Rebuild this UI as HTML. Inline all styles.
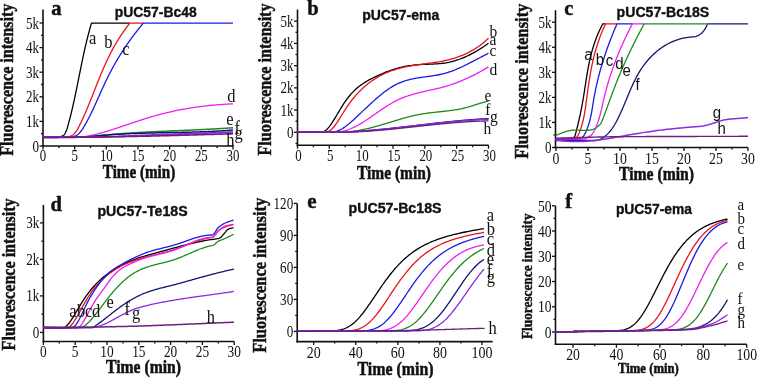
<!DOCTYPE html>
<html><head><meta charset="utf-8"><style>
html,body{margin:0;padding:0;background:#fff;}
svg{display:block;filter:blur(0.5px);}
</style></head><body>
<svg width="758" height="378" viewBox="0 0 758 378">
<rect width="758" height="378" fill="#fff"/>
<line x1="43.00" y1="9.50" x2="43.00" y2="146.80" stroke="#111" stroke-width="1.6"/>
<line x1="42.20" y1="146.00" x2="233.00" y2="146.00" stroke="#111" stroke-width="1.6"/>
<line x1="39.50" y1="146.00" x2="43.00" y2="146.00" stroke="#111" stroke-width="1.3"/>
<line x1="39.50" y1="121.40" x2="43.00" y2="121.40" stroke="#111" stroke-width="1.3"/>
<line x1="39.50" y1="96.80" x2="43.00" y2="96.80" stroke="#111" stroke-width="1.3"/>
<line x1="39.50" y1="72.20" x2="43.00" y2="72.20" stroke="#111" stroke-width="1.3"/>
<line x1="39.50" y1="47.60" x2="43.00" y2="47.60" stroke="#111" stroke-width="1.3"/>
<line x1="39.50" y1="23.00" x2="43.00" y2="23.00" stroke="#111" stroke-width="1.3"/>
<line x1="41.00" y1="133.70" x2="43.00" y2="133.70" stroke="#111" stroke-width="1.3"/>
<line x1="41.00" y1="109.10" x2="43.00" y2="109.10" stroke="#111" stroke-width="1.3"/>
<line x1="41.00" y1="84.50" x2="43.00" y2="84.50" stroke="#111" stroke-width="1.3"/>
<line x1="41.00" y1="59.90" x2="43.00" y2="59.90" stroke="#111" stroke-width="1.3"/>
<line x1="41.00" y1="35.30" x2="43.00" y2="35.30" stroke="#111" stroke-width="1.3"/>
<line x1="43.00" y1="146.00" x2="43.00" y2="149.50" stroke="#111" stroke-width="1.3"/>
<line x1="74.67" y1="146.00" x2="74.67" y2="149.50" stroke="#111" stroke-width="1.3"/>
<line x1="106.33" y1="146.00" x2="106.33" y2="149.50" stroke="#111" stroke-width="1.3"/>
<line x1="138.00" y1="146.00" x2="138.00" y2="149.50" stroke="#111" stroke-width="1.3"/>
<line x1="169.67" y1="146.00" x2="169.67" y2="149.50" stroke="#111" stroke-width="1.3"/>
<line x1="201.33" y1="146.00" x2="201.33" y2="149.50" stroke="#111" stroke-width="1.3"/>
<line x1="233.00" y1="146.00" x2="233.00" y2="149.50" stroke="#111" stroke-width="1.3"/>
<line x1="58.83" y1="146.00" x2="58.83" y2="148.00" stroke="#111" stroke-width="1.3"/>
<line x1="90.50" y1="146.00" x2="90.50" y2="148.00" stroke="#111" stroke-width="1.3"/>
<line x1="122.17" y1="146.00" x2="122.17" y2="148.00" stroke="#111" stroke-width="1.3"/>
<line x1="153.83" y1="146.00" x2="153.83" y2="148.00" stroke="#111" stroke-width="1.3"/>
<line x1="185.50" y1="146.00" x2="185.50" y2="148.00" stroke="#111" stroke-width="1.3"/>
<line x1="217.17" y1="146.00" x2="217.17" y2="148.00" stroke="#111" stroke-width="1.3"/>
<text transform="translate(39.00 151.51) scale(0.97 1.2)" font-family='"Liberation Serif", serif' font-size="13.5" text-anchor="end" fill="#111">0</text>
<text transform="translate(39.00 126.91) scale(0.97 1.2)" font-family='"Liberation Serif", serif' font-size="13.5" text-anchor="end" fill="#111">1k</text>
<text transform="translate(39.00 102.31) scale(0.97 1.2)" font-family='"Liberation Serif", serif' font-size="13.5" text-anchor="end" fill="#111">2k</text>
<text transform="translate(39.00 77.71) scale(0.97 1.2)" font-family='"Liberation Serif", serif' font-size="13.5" text-anchor="end" fill="#111">3k</text>
<text transform="translate(39.00 53.11) scale(0.97 1.2)" font-family='"Liberation Serif", serif' font-size="13.5" text-anchor="end" fill="#111">4k</text>
<text transform="translate(39.00 28.51) scale(0.97 1.2)" font-family='"Liberation Serif", serif' font-size="13.5" text-anchor="end" fill="#111">5k</text>
<text transform="translate(43.00 161.00) scale(0.92 1.12)" font-family='"Liberation Serif", serif' font-size="14" text-anchor="middle" fill="#111">0</text>
<text transform="translate(74.67 161.00) scale(0.92 1.12)" font-family='"Liberation Serif", serif' font-size="14" text-anchor="middle" fill="#111">5</text>
<text transform="translate(106.33 161.00) scale(0.92 1.12)" font-family='"Liberation Serif", serif' font-size="14" text-anchor="middle" fill="#111">10</text>
<text transform="translate(138.00 161.00) scale(0.92 1.12)" font-family='"Liberation Serif", serif' font-size="14" text-anchor="middle" fill="#111">15</text>
<text transform="translate(169.67 161.00) scale(0.92 1.12)" font-family='"Liberation Serif", serif' font-size="14" text-anchor="middle" fill="#111">20</text>
<text transform="translate(201.33 161.00) scale(0.92 1.12)" font-family='"Liberation Serif", serif' font-size="14" text-anchor="middle" fill="#111">25</text>
<text transform="translate(233.00 161.00) scale(0.92 1.12)" font-family='"Liberation Serif", serif' font-size="14" text-anchor="middle" fill="#111">30</text>
<text transform="translate(13.30 155.70) rotate(-90) scale(1 1.2)" x="0" y="0" font-family='"Liberation Serif", serif' font-size="16" font-weight="bold" fill="#111" stroke="#111" stroke-width="0.4" textLength="152" lengthAdjust="spacingAndGlyphs">Fluorescence intensity</text>
<text transform="translate(102.80 177.70) scale(1.0 1.2)" font-family='"Liberation Serif", serif' font-size="15.5" font-weight="bold" text-anchor="start" fill="#111" stroke="#111" stroke-width="0.45" textLength="72.5" lengthAdjust="spacingAndGlyphs" >Time (min)</text>
<text transform="translate(51.30 15.30) scale(1.0 1.0)" font-family='"Liberation Serif", serif' font-size="20.5" font-weight="bold" text-anchor="start" fill="#111" stroke="#111" stroke-width="0.45" >a</text>
<text transform="translate(114.70 16.70) scale(1.0 1.0)" font-family='"Liberation Sans", sans-serif' font-size="14" font-weight="bold" text-anchor="start" fill="#111" stroke="#111" stroke-width="0.35" textLength="82.0" lengthAdjust="spacingAndGlyphs" >pUC57-Bc48</text>
<path d="M43.00 136.70 L43.20 136.70 L43.40 136.70 L43.60 136.70 L43.80 136.70 L44.00 136.70 L44.19 136.70 L44.39 136.70 L44.59 136.70 L44.79 136.70 L44.99 136.70 L45.19 136.70 L45.39 136.70 L45.59 136.70 L45.79 136.70 L45.99 136.70 L46.19 136.70 L46.39 136.70 L46.58 136.70 L46.78 136.70 L46.98 136.70 L47.18 136.70 L47.38 136.70 L47.58 136.70 L47.78 136.70 L47.98 136.70 L48.18 136.70 L48.38 136.70 L48.58 136.70 L48.78 136.70 L48.97 136.70 L49.17 136.70 L49.37 136.70 L49.57 136.70 L49.77 136.70 L49.97 136.70 L50.17 136.70 L50.37 136.70 L50.57 136.70 L50.77 136.70 L50.97 136.70 L51.17 136.70 L51.36 136.70 L51.56 136.70 L51.76 136.70 L51.96 136.70 L52.16 136.70 L52.36 136.70 L52.56 136.70 L52.76 136.70 L52.96 136.70 L53.16 136.70 L53.36 136.70 L53.56 136.70 L53.75 136.70 L53.95 136.70 L54.15 136.70 L54.35 136.70 L54.55 136.70 L54.75 136.70 L54.95 136.70 L55.15 136.70 L55.35 136.70 L55.55 136.70 L55.75 136.70 L55.95 136.70 L56.14 136.70 L56.34 136.70 L56.54 136.70 L56.74 136.70 L56.94 136.70 L57.14 136.70 L57.34 136.70 L57.54 136.70 L57.74 136.70 L57.94 136.70 L58.14 136.70 L58.34 136.70 L58.53 136.70 L58.73 136.70 L58.93 136.70 L59.13 136.70 L59.33 136.69 L59.53 136.68 L59.73 136.66 L59.93 136.63 L60.13 136.60 L60.33 136.56 L60.53 136.52 L60.73 136.48 L60.92 136.43 L61.12 136.38 L61.32 136.33 L61.52 136.28 L61.72 136.22 L61.92 136.16 L62.12 136.10 L62.32 136.02 L62.52 135.93 L62.72 135.82 L62.92 135.71 L63.12 135.59 L63.31 135.45 L63.51 135.31 L63.71 135.15 L63.91 134.99 L64.11 134.79 L64.31 134.55 L64.51 134.26 L64.71 133.94 L64.91 133.59 L65.11 133.21 L65.31 132.82 L65.51 132.41 L65.70 131.99 L65.90 131.58 L66.10 131.16 L66.30 130.76 L66.50 130.37 L66.70 130.00" fill="none" stroke="#000000" stroke-width="1.3" stroke-linejoin="round"/>
<path d="M66.70 130.00 L67.02 128.92 L67.33 127.84 L67.64 126.76 L67.94 125.68 L68.24 124.60 L68.54 123.52 L68.83 122.44 L69.12 121.36 L69.41 120.28 L69.69 119.20 L69.97 118.12 L70.24 117.04 L70.51 115.96 L70.78 114.88 L71.05 113.80 L71.31 112.72 L71.58 111.64 L71.83 110.56 L72.09 109.48 L72.34 108.40 L72.59 107.32 L72.84 106.24 L73.09 105.16 L73.33 104.08 L73.57 103.01 L73.81 101.93 L74.05 100.85 L74.28 99.77 L74.52 98.69 L74.75 97.61 L74.98 96.53 L75.21 95.45 L75.43 94.37 L75.66 93.29 L75.88 92.21 L76.11 91.13 L76.33 90.05 L76.55 88.97 L76.77 87.89 L76.99 86.81 L77.21 85.73 L77.43 84.65 L77.65 83.57 L77.86 82.49 L78.08 81.41 L78.30 80.33 L78.51 79.25 L78.73 78.17 L78.94 77.09 L79.16 76.01 L79.37 74.93 L79.59 73.85 L79.81 72.77 L80.02 71.69 L80.24 70.61 L80.46 69.53 L80.67 68.45 L80.89 67.37 L81.11 66.29 L81.33 65.21 L81.55 64.13 L81.78 63.05 L82.00 61.97 L82.22 60.89 L82.45 59.81 L82.68 58.73 L82.91 57.65 L83.14 56.57 L83.37 55.49 L83.60 54.41 L83.84 53.33 L84.07 52.25 L84.31 51.17 L84.55 50.09 L84.80 49.02 L85.04 47.94 L85.29 46.86 L85.54 45.78 L85.79 44.70 L86.05 43.62 L86.31 42.54 L86.57 41.46 L86.83 40.38 L87.10 39.30 L87.37 38.22 L87.64 37.14 L87.92 36.06 L88.19 34.98 L88.48 33.90 L88.76 32.82 L89.05 31.74 L89.34 30.66 L89.64 29.58 L89.94 28.50 L90.24 27.42 L90.55 26.34 L90.86 25.26 L91.18 24.18 L91.50 23.10 L129.80 23.10" fill="none" stroke="#000000" stroke-width="1.3" stroke-linejoin="round"/>
<path d="M43.00 136.70 L43.29 136.70 L43.57 136.70 L43.86 136.70 L44.15 136.70 L44.44 136.70 L44.72 136.70 L45.01 136.70 L45.30 136.70 L45.59 136.70 L45.87 136.70 L46.16 136.70 L46.45 136.70 L46.74 136.70 L47.02 136.70 L47.31 136.70 L47.60 136.70 L47.89 136.70 L48.17 136.70 L48.46 136.70 L48.75 136.70 L49.04 136.70 L49.32 136.70 L49.61 136.70 L49.90 136.70 L50.18 136.70 L50.47 136.70 L50.76 136.70 L51.05 136.70 L51.33 136.70 L51.62 136.70 L51.91 136.70 L52.20 136.70 L52.48 136.70 L52.77 136.70 L53.06 136.70 L53.35 136.70 L53.63 136.70 L53.92 136.70 L54.21 136.70 L54.50 136.70 L54.78 136.70 L55.07 136.70 L55.36 136.70 L55.65 136.70 L55.93 136.70 L56.22 136.70 L56.51 136.70 L56.79 136.70 L57.08 136.70 L57.37 136.70 L57.66 136.70 L57.94 136.70 L58.23 136.70 L58.52 136.70 L58.81 136.70 L59.09 136.70 L59.38 136.70 L59.67 136.70 L59.96 136.70 L60.24 136.70 L60.53 136.70 L60.82 136.70 L61.11 136.70 L61.39 136.70 L61.68 136.70 L61.97 136.70 L62.26 136.70 L62.54 136.70 L62.83 136.70 L63.12 136.70 L63.41 136.70 L63.69 136.70 L63.98 136.70 L64.27 136.70 L64.55 136.70 L64.84 136.70 L65.13 136.70 L65.42 136.70 L65.70 136.70 L65.99 136.70 L66.28 136.70 L66.57 136.70 L66.85 136.70 L67.14 136.70 L67.43 136.69 L67.72 136.67 L68.00 136.64 L68.29 136.60 L68.58 136.56 L68.87 136.51 L69.15 136.45 L69.44 136.40 L69.73 136.33 L70.02 136.27 L70.30 136.20 L70.59 136.12 L70.88 136.02 L71.16 135.91 L71.45 135.78 L71.74 135.63 L72.03 135.47 L72.31 135.31 L72.60 135.13 L72.89 134.94 L73.18 134.73 L73.46 134.48 L73.75 134.20 L74.04 133.90 L74.33 133.58 L74.61 133.24 L74.90 132.89 L75.19 132.53 L75.48 132.16 L75.76 131.79 L76.05 131.41 L76.34 131.05 L76.63 130.68 L76.91 130.34 L77.20 130.00" fill="none" stroke="#e8141c" stroke-width="1.3" stroke-linejoin="round"/>
<path d="M77.20 130.00 L77.76 128.92 L78.32 127.84 L78.87 126.76 L79.41 125.68 L79.94 124.60 L80.47 123.52 L80.98 122.44 L81.50 121.36 L82.01 120.28 L82.51 119.20 L83.00 118.12 L83.49 117.04 L83.98 115.96 L84.46 114.88 L84.93 113.80 L85.40 112.72 L85.87 111.64 L86.33 110.56 L86.79 109.48 L87.24 108.40 L87.69 107.32 L88.14 106.24 L88.58 105.16 L89.03 104.08 L89.46 103.01 L89.90 101.93 L90.33 100.85 L90.77 99.77 L91.20 98.69 L91.63 97.61 L92.05 96.53 L92.48 95.45 L92.90 94.37 L93.33 93.29 L93.75 92.21 L94.18 91.13 L94.60 90.05 L95.02 88.97 L95.45 87.89 L95.87 86.81 L96.30 85.73 L96.73 84.65 L97.15 83.57 L97.58 82.49 L98.01 81.41 L98.45 80.33 L98.88 79.25 L99.32 78.17 L99.76 77.09 L100.20 76.01 L100.65 74.93 L101.10 73.85 L101.55 72.77 L102.01 71.69 L102.46 70.61 L102.93 69.53 L103.40 68.45 L103.87 67.37 L104.35 66.29 L104.83 65.21 L105.32 64.13 L105.81 63.05 L106.31 61.97 L106.81 60.89 L107.32 59.81 L107.84 58.73 L108.36 57.65 L108.89 56.57 L109.43 55.49 L109.97 54.41 L110.52 53.33 L111.08 52.25 L111.65 51.17 L112.22 50.09 L112.80 49.02 L113.40 47.94 L113.99 46.86 L114.60 45.78 L115.22 44.70 L115.85 43.62 L116.48 42.54 L117.13 41.46 L117.78 40.38 L118.45 39.30 L119.13 38.22 L119.81 37.14 L120.51 36.06 L121.22 34.98 L121.94 33.90 L122.67 32.82 L123.41 31.74 L124.17 30.66 L124.93 29.58 L125.71 28.50 L126.51 27.42 L127.31 26.34 L128.13 25.26 L128.96 24.18 L129.80 23.10 L143.40 23.10" fill="none" stroke="#e8141c" stroke-width="1.3" stroke-linejoin="round"/>
<path d="M43.00 136.70 L43.33 136.70 L43.66 136.70 L43.98 136.70 L44.31 136.70 L44.64 136.70 L44.97 136.70 L45.29 136.70 L45.62 136.70 L45.95 136.70 L46.28 136.70 L46.61 136.70 L46.93 136.70 L47.26 136.70 L47.59 136.70 L47.92 136.70 L48.24 136.70 L48.57 136.70 L48.90 136.70 L49.23 136.70 L49.55 136.70 L49.88 136.70 L50.21 136.70 L50.54 136.70 L50.87 136.70 L51.19 136.70 L51.52 136.70 L51.85 136.70 L52.18 136.70 L52.50 136.70 L52.83 136.70 L53.16 136.70 L53.49 136.70 L53.82 136.70 L54.14 136.70 L54.47 136.70 L54.80 136.70 L55.13 136.70 L55.45 136.70 L55.78 136.70 L56.11 136.70 L56.44 136.70 L56.76 136.70 L57.09 136.70 L57.42 136.70 L57.75 136.70 L58.08 136.70 L58.40 136.70 L58.73 136.70 L59.06 136.70 L59.39 136.70 L59.71 136.70 L60.04 136.70 L60.37 136.70 L60.70 136.70 L61.03 136.70 L61.35 136.70 L61.68 136.70 L62.01 136.70 L62.34 136.70 L62.66 136.70 L62.99 136.70 L63.32 136.70 L63.65 136.70 L63.97 136.70 L64.30 136.70 L64.63 136.70 L64.96 136.70 L65.29 136.70 L65.61 136.70 L65.94 136.70 L66.27 136.70 L66.60 136.70 L66.92 136.70 L67.25 136.70 L67.58 136.70 L67.91 136.70 L68.24 136.70 L68.56 136.70 L68.89 136.70 L69.22 136.70 L69.55 136.70 L69.87 136.70 L70.20 136.70 L70.53 136.70 L70.86 136.70 L71.18 136.70 L71.51 136.70 L71.84 136.69 L72.17 136.67 L72.50 136.64 L72.82 136.59 L73.15 136.54 L73.48 136.48 L73.81 136.41 L74.13 136.33 L74.46 136.26 L74.79 136.18 L75.12 136.08 L75.45 135.95 L75.77 135.81 L76.10 135.65 L76.43 135.47 L76.76 135.27 L77.08 135.07 L77.41 134.86 L77.74 134.61 L78.07 134.33 L78.39 134.03 L78.72 133.70 L79.05 133.36 L79.38 133.00 L79.71 132.62 L80.03 132.24 L80.36 131.86 L80.69 131.47 L81.02 131.09 L81.34 130.71 L81.67 130.35 L82.00 130.00" fill="none" stroke="#1a1ae6" stroke-width="1.3" stroke-linejoin="round"/>
<path d="M82.00 130.00 L82.66 128.92 L83.31 127.84 L83.95 126.76 L84.57 125.68 L85.19 124.60 L85.79 123.52 L86.39 122.44 L86.98 121.36 L87.56 120.28 L88.13 119.20 L88.69 118.12 L89.24 117.04 L89.79 115.96 L90.33 114.88 L90.87 113.80 L91.39 112.72 L91.92 111.64 L92.43 110.56 L92.94 109.48 L93.45 108.40 L93.96 107.32 L94.45 106.24 L94.95 105.16 L95.44 104.08 L95.93 103.01 L96.42 101.93 L96.91 100.85 L97.39 99.77 L97.87 98.69 L98.35 97.61 L98.83 96.53 L99.32 95.45 L99.80 94.37 L100.28 93.29 L100.76 92.21 L101.25 91.13 L101.73 90.05 L102.22 88.97 L102.71 87.89 L103.20 86.81 L103.70 85.73 L104.20 84.65 L104.70 83.57 L105.21 82.49 L105.72 81.41 L106.24 80.33 L106.77 79.25 L107.30 78.17 L107.83 77.09 L108.37 76.01 L108.92 74.93 L109.47 73.85 L110.03 72.77 L110.59 71.69 L111.16 70.61 L111.74 69.53 L112.32 68.45 L112.91 67.37 L113.51 66.29 L114.11 65.21 L114.72 64.13 L115.34 63.05 L115.96 61.97 L116.59 60.89 L117.22 59.81 L117.86 58.73 L118.51 57.65 L119.17 56.57 L119.83 55.49 L120.50 54.41 L121.18 53.33 L121.87 52.25 L122.56 51.17 L123.26 50.09 L123.97 49.02 L124.68 47.94 L125.41 46.86 L126.14 45.78 L126.88 44.70 L127.62 43.62 L128.38 42.54 L129.14 41.46 L129.91 40.38 L130.69 39.30 L131.48 38.22 L132.27 37.14 L133.08 36.06 L133.89 34.98 L134.71 33.90 L135.54 32.82 L136.38 31.74 L137.22 30.66 L138.08 29.58 L138.94 28.50 L139.82 27.42 L140.70 26.34 L141.59 25.26 L142.49 24.18 L143.40 23.10 L233.00 23.10" fill="none" stroke="#1a1ae6" stroke-width="1.3" stroke-linejoin="round"/>
<path d="M43.00 136.70 L85.00 136.70 L86.24 136.47 L87.49 136.23 L88.73 135.98 L89.97 135.71 L91.22 135.44 L92.46 135.16 L93.71 134.87 L94.95 134.57 L96.19 134.26 L97.44 133.94 L98.68 133.61 L99.92 133.28 L101.17 132.94 L102.41 132.59 L103.66 132.24 L104.90 131.87 L106.14 131.51 L107.39 131.13 L108.63 130.76 L109.87 130.37 L111.12 129.98 L112.36 129.59 L113.61 129.19 L114.85 128.79 L116.09 128.39 L117.34 127.98 L118.58 127.57 L119.82 127.16 L121.07 126.74 L122.31 126.33 L123.55 125.91 L124.80 125.49 L126.04 125.07 L127.29 124.65 L128.53 124.23 L129.77 123.81 L131.02 123.39 L132.26 122.97 L133.50 122.55 L134.75 122.13 L135.99 121.71 L137.24 121.30 L138.48 120.89 L139.72 120.48 L140.97 120.07 L142.21 119.67 L143.45 119.27 L144.70 118.88 L145.94 118.49 L147.18 118.10 L148.43 117.72 L149.67 117.34 L150.92 116.97 L152.16 116.61 L153.40 116.25 L154.65 115.90 L155.89 115.55 L157.13 115.21 L158.38 114.87 L159.62 114.54 L160.87 114.21 L162.11 113.89 L163.35 113.58 L164.60 113.27 L165.84 112.96 L167.08 112.66 L168.33 112.37 L169.57 112.08 L170.82 111.80 L172.06 111.52 L173.30 111.25 L174.55 110.98 L175.79 110.72 L177.03 110.46 L178.28 110.21 L179.52 109.97 L180.76 109.73 L182.01 109.49 L183.25 109.26 L184.50 109.03 L185.74 108.81 L186.98 108.59 L188.23 108.38 L189.47 108.17 L190.71 107.97 L191.96 107.78 L193.20 107.58 L194.45 107.40 L195.69 107.21 L196.93 107.04 L198.18 106.86 L199.42 106.69 L200.66 106.53 L201.91 106.37 L203.15 106.22 L204.39 106.07 L205.64 105.92 L206.88 105.78 L208.13 105.65 L209.37 105.51 L210.61 105.39 L211.86 105.26 L213.10 105.15 L214.34 105.03 L215.59 104.92 L216.83 104.82 L218.08 104.72 L219.32 104.62 L220.56 104.53 L221.81 104.44 L223.05 104.36 L224.29 104.28 L225.54 104.20 L226.78 104.13 L228.03 104.06 L229.27 104.00 L230.51 103.94 L231.76 103.89 L233.00 103.83" fill="none" stroke="#f01ef0" stroke-width="1.3" stroke-linejoin="round"/>
<path d="M43.00 136.70 L90.00 136.70 L91.20 136.55 L92.40 136.41 L93.61 136.27 L94.81 136.13 L96.01 136.00 L97.21 135.87 L98.41 135.74 L99.61 135.61 L100.82 135.48 L102.02 135.36 L103.22 135.24 L104.42 135.12 L105.62 135.01 L106.82 134.89 L108.03 134.78 L109.23 134.67 L110.43 134.56 L111.63 134.46 L112.83 134.35 L114.03 134.25 L115.24 134.15 L116.44 134.05 L117.64 133.96 L118.84 133.86 L120.04 133.77 L121.24 133.68 L122.45 133.59 L123.65 133.50 L124.85 133.41 L126.05 133.33 L127.25 133.25 L128.45 133.16 L129.66 133.08 L130.86 133.01 L132.06 132.93 L133.26 132.85 L134.46 132.78 L135.66 132.71 L136.87 132.63 L138.07 132.56 L139.27 132.49 L140.47 132.42 L141.67 132.36 L142.87 132.29 L144.08 132.23 L145.28 132.16 L146.48 132.10 L147.68 132.04 L148.88 131.97 L150.08 131.91 L151.29 131.85 L152.49 131.79 L153.69 131.74 L154.89 131.68 L156.09 131.62 L157.29 131.57 L158.50 131.51 L159.70 131.46 L160.90 131.40 L162.10 131.35 L163.30 131.29 L164.50 131.24 L165.71 131.19 L166.91 131.13 L168.11 131.08 L169.31 131.03 L170.51 130.98 L171.71 130.93 L172.92 130.87 L174.12 130.82 L175.32 130.77 L176.52 130.72 L177.72 130.67 L178.92 130.62 L180.13 130.57 L181.33 130.52 L182.53 130.47 L183.73 130.41 L184.93 130.36 L186.13 130.31 L187.34 130.26 L188.54 130.20 L189.74 130.15 L190.94 130.10 L192.14 130.04 L193.34 129.99 L194.55 129.94 L195.75 129.88 L196.95 129.82 L198.15 129.77 L199.35 129.71 L200.55 129.65 L201.76 129.59 L202.96 129.53 L204.16 129.47 L205.36 129.41 L206.56 129.35 L207.76 129.29 L208.97 129.23 L210.17 129.16 L211.37 129.10 L212.57 129.03 L213.77 128.96 L214.97 128.89 L216.18 128.82 L217.38 128.75 L218.58 128.68 L219.78 128.60 L220.98 128.53 L222.18 128.45 L223.39 128.38 L224.59 128.30 L225.79 128.22 L226.99 128.13 L228.19 128.05 L229.39 127.97 L230.60 127.88 L231.80 127.79 L233.00 127.70" fill="none" stroke="#1f8a1f" stroke-width="1.5" stroke-linejoin="round"/>
<path d="M43.00 136.70 L90.00 136.70 L91.20 136.56 L92.40 136.42 L93.61 136.29 L94.81 136.16 L96.01 136.03 L97.21 135.91 L98.41 135.79 L99.61 135.68 L100.82 135.56 L102.02 135.45 L103.22 135.35 L104.42 135.24 L105.62 135.14 L106.82 135.04 L108.03 134.95 L109.23 134.86 L110.43 134.77 L111.63 134.68 L112.83 134.60 L114.03 134.52 L115.24 134.44 L116.44 134.36 L117.64 134.29 L118.84 134.22 L120.04 134.15 L121.24 134.08 L122.45 134.02 L123.65 133.95 L124.85 133.89 L126.05 133.83 L127.25 133.78 L128.45 133.72 L129.66 133.67 L130.86 133.62 L132.06 133.57 L133.26 133.52 L134.46 133.48 L135.66 133.43 L136.87 133.39 L138.07 133.35 L139.27 133.31 L140.47 133.27 L141.67 133.23 L142.87 133.20 L144.08 133.16 L145.28 133.13 L146.48 133.10 L147.68 133.07 L148.88 133.03 L150.08 133.01 L151.29 132.98 L152.49 132.95 L153.69 132.92 L154.89 132.90 L156.09 132.87 L157.29 132.84 L158.50 132.82 L159.70 132.80 L160.90 132.77 L162.10 132.75 L163.30 132.73 L164.50 132.70 L165.71 132.68 L166.91 132.66 L168.11 132.64 L169.31 132.61 L170.51 132.59 L171.71 132.57 L172.92 132.55 L174.12 132.52 L175.32 132.50 L176.52 132.48 L177.72 132.45 L178.92 132.43 L180.13 132.40 L181.33 132.38 L182.53 132.35 L183.73 132.33 L184.93 132.30 L186.13 132.27 L187.34 132.24 L188.54 132.21 L189.74 132.18 L190.94 132.15 L192.14 132.12 L193.34 132.08 L194.55 132.05 L195.75 132.01 L196.95 131.98 L198.15 131.94 L199.35 131.90 L200.55 131.86 L201.76 131.81 L202.96 131.77 L204.16 131.72 L205.36 131.68 L206.56 131.63 L207.76 131.58 L208.97 131.52 L210.17 131.47 L211.37 131.41 L212.57 131.35 L213.77 131.29 L214.97 131.23 L216.18 131.17 L217.38 131.10 L218.58 131.03 L219.78 130.96 L220.98 130.88 L222.18 130.81 L223.39 130.73 L224.59 130.65 L225.79 130.56 L226.99 130.48 L228.19 130.39 L229.39 130.29 L230.60 130.20 L231.80 130.10 L233.00 130.00" fill="none" stroke="#141470" stroke-width="1.5" stroke-linejoin="round"/>
<path d="M43.00 137.20 L44.60 137.19 L46.19 137.19 L47.79 137.18 L49.39 137.18 L50.98 137.18 L52.58 137.17 L54.18 137.17 L55.77 137.16 L57.37 137.16 L58.97 137.15 L60.56 137.15 L62.16 137.15 L63.76 137.14 L65.35 137.14 L66.95 137.13 L68.55 137.13 L70.14 137.13 L71.74 137.12 L73.34 137.12 L74.93 137.11 L76.53 137.11 L78.13 137.10 L79.72 137.10 L81.32 137.09 L82.92 137.09 L84.51 137.08 L86.11 137.07 L87.71 137.07 L89.30 137.06 L90.90 137.05 L92.50 137.04 L94.09 137.04 L95.69 137.03 L97.29 137.02 L98.88 137.01 L100.48 137.00 L102.08 136.98 L103.67 136.96 L105.27 136.92 L106.87 136.89 L108.46 136.84 L110.06 136.80 L111.66 136.74 L113.25 136.68 L114.85 136.62 L116.45 136.56 L118.04 136.49 L119.64 136.42 L121.24 136.35 L122.83 136.27 L124.43 136.20 L126.03 136.12 L127.62 136.04 L129.22 135.97 L130.82 135.89 L132.41 135.82 L134.01 135.75 L135.61 135.68 L137.20 135.61 L138.80 135.55 L140.39 135.49 L141.99 135.43 L143.59 135.37 L145.18 135.31 L146.78 135.25 L148.38 135.19 L149.97 135.13 L151.57 135.07 L153.17 135.01 L154.76 134.95 L156.36 134.90 L157.96 134.84 L159.55 134.78 L161.15 134.72 L162.75 134.66 L164.34 134.60 L165.94 134.54 L167.54 134.49 L169.13 134.43 L170.73 134.37 L172.33 134.31 L173.92 134.25 L175.52 134.19 L177.12 134.14 L178.71 134.08 L180.31 134.02 L181.91 133.96 L183.50 133.90 L185.10 133.84 L186.70 133.79 L188.29 133.73 L189.89 133.67 L191.49 133.61 L193.08 133.55 L194.68 133.50 L196.28 133.44 L197.87 133.38 L199.47 133.32 L201.07 133.26 L202.66 133.21 L204.26 133.15 L205.86 133.09 L207.45 133.03 L209.05 132.97 L210.65 132.92 L212.24 132.86 L213.84 132.80 L215.44 132.74 L217.03 132.68 L218.63 132.62 L220.23 132.57 L221.82 132.51 L223.42 132.45 L225.02 132.39 L226.61 132.33 L228.21 132.27 L229.81 132.22 L231.40 132.16 L233.00 132.10" fill="none" stroke="#8a2be2" stroke-width="1.8" stroke-linejoin="round"/>
<path d="M43.00 137.80 L44.60 137.78 L46.19 137.75 L47.79 137.73 L49.39 137.70 L50.98 137.68 L52.58 137.66 L54.18 137.63 L55.77 137.61 L57.37 137.59 L58.97 137.56 L60.56 137.54 L62.16 137.52 L63.76 137.49 L65.35 137.47 L66.95 137.45 L68.55 137.43 L70.14 137.40 L71.74 137.38 L73.34 137.36 L74.93 137.34 L76.53 137.31 L78.13 137.29 L79.72 137.27 L81.32 137.25 L82.92 137.22 L84.51 137.20 L86.11 137.18 L87.71 137.16 L89.30 137.13 L90.90 137.11 L92.50 137.09 L94.09 137.06 L95.69 137.04 L97.29 137.02 L98.88 136.99 L100.48 136.97 L102.08 136.95 L103.67 136.92 L105.27 136.90 L106.87 136.87 L108.46 136.85 L110.06 136.82 L111.66 136.80 L113.25 136.77 L114.85 136.75 L116.45 136.72 L118.04 136.69 L119.64 136.67 L121.24 136.64 L122.83 136.61 L124.43 136.59 L126.03 136.56 L127.62 136.53 L129.22 136.50 L130.82 136.47 L132.41 136.44 L134.01 136.41 L135.61 136.38 L137.20 136.35 L138.80 136.32 L140.39 136.29 L141.99 136.26 L143.59 136.23 L145.18 136.19 L146.78 136.16 L148.38 136.12 L149.97 136.09 L151.57 136.05 L153.17 136.02 L154.76 135.98 L156.36 135.94 L157.96 135.90 L159.55 135.86 L161.15 135.82 L162.75 135.78 L164.34 135.74 L165.94 135.70 L167.54 135.66 L169.13 135.62 L170.73 135.57 L172.33 135.53 L173.92 135.49 L175.52 135.44 L177.12 135.40 L178.71 135.35 L180.31 135.31 L181.91 135.26 L183.50 135.22 L185.10 135.17 L186.70 135.13 L188.29 135.08 L189.89 135.04 L191.49 134.99 L193.08 134.94 L194.68 134.90 L196.28 134.85 L197.87 134.80 L199.47 134.76 L201.07 134.71 L202.66 134.66 L204.26 134.62 L205.86 134.57 L207.45 134.52 L209.05 134.48 L210.65 134.43 L212.24 134.38 L213.84 134.34 L215.44 134.29 L217.03 134.25 L218.63 134.20 L220.23 134.15 L221.82 134.11 L223.42 134.06 L225.02 134.02 L226.61 133.97 L228.21 133.93 L229.81 133.89 L231.40 133.84 L233.00 133.80" fill="none" stroke="#6d1f7d" stroke-width="1.6" stroke-linejoin="round"/>
<text transform="translate(89.00 44.00) scale(1.0 1.08)" font-family='"Liberation Serif", serif' font-size="16.5" font-weight="normal" text-anchor="start" fill="#111" >a</text>
<text transform="translate(104.20 48.20) scale(1.0 1.08)" font-family='"Liberation Serif", serif' font-size="16.5" font-weight="normal" text-anchor="start" fill="#111" >b</text>
<text transform="translate(122.30 54.50) scale(1.0 1.08)" font-family='"Liberation Serif", serif' font-size="16.5" font-weight="normal" text-anchor="start" fill="#111" >c</text>
<text transform="translate(227.30 102.00) scale(1.0 1.08)" font-family='"Liberation Serif", serif' font-size="16.5" font-weight="normal" text-anchor="start" fill="#111" >d</text>
<text transform="translate(226.30 125.20) scale(1.0 1.08)" font-family='"Liberation Serif", serif' font-size="16.5" font-weight="normal" text-anchor="start" fill="#111" >e</text>
<text transform="translate(234.40 133.50) scale(1.0 1.08)" font-family='"Liberation Serif", serif' font-size="16.5" font-weight="normal" text-anchor="start" fill="#111" >f</text>
<text transform="translate(234.40 138.70) scale(1.0 1.08)" font-family='"Liberation Serif", serif' font-size="16.5" font-weight="normal" text-anchor="start" fill="#111" >g</text>
<text transform="translate(226.30 146.20) scale(1.0 1.08)" font-family='"Liberation Serif", serif' font-size="16.5" font-weight="normal" text-anchor="start" fill="#111" >h</text>
<line x1="297.50" y1="9.50" x2="297.50" y2="146.00" stroke="#111" stroke-width="1.6"/>
<line x1="296.70" y1="145.20" x2="488.50" y2="145.20" stroke="#111" stroke-width="1.6"/>
<line x1="294.00" y1="132.30" x2="297.50" y2="132.30" stroke="#111" stroke-width="1.3"/>
<line x1="294.00" y1="110.08" x2="297.50" y2="110.08" stroke="#111" stroke-width="1.3"/>
<line x1="294.00" y1="87.86" x2="297.50" y2="87.86" stroke="#111" stroke-width="1.3"/>
<line x1="294.00" y1="65.64" x2="297.50" y2="65.64" stroke="#111" stroke-width="1.3"/>
<line x1="294.00" y1="43.42" x2="297.50" y2="43.42" stroke="#111" stroke-width="1.3"/>
<line x1="294.00" y1="21.20" x2="297.50" y2="21.20" stroke="#111" stroke-width="1.3"/>
<line x1="295.50" y1="121.19" x2="297.50" y2="121.19" stroke="#111" stroke-width="1.3"/>
<line x1="295.50" y1="98.97" x2="297.50" y2="98.97" stroke="#111" stroke-width="1.3"/>
<line x1="295.50" y1="76.75" x2="297.50" y2="76.75" stroke="#111" stroke-width="1.3"/>
<line x1="295.50" y1="54.53" x2="297.50" y2="54.53" stroke="#111" stroke-width="1.3"/>
<line x1="295.50" y1="32.31" x2="297.50" y2="32.31" stroke="#111" stroke-width="1.3"/>
<line x1="295.50" y1="143.41" x2="297.50" y2="143.41" stroke="#111" stroke-width="1.3"/>
<line x1="297.50" y1="145.20" x2="297.50" y2="148.70" stroke="#111" stroke-width="1.3"/>
<line x1="329.33" y1="145.20" x2="329.33" y2="148.70" stroke="#111" stroke-width="1.3"/>
<line x1="361.17" y1="145.20" x2="361.17" y2="148.70" stroke="#111" stroke-width="1.3"/>
<line x1="393.00" y1="145.20" x2="393.00" y2="148.70" stroke="#111" stroke-width="1.3"/>
<line x1="424.83" y1="145.20" x2="424.83" y2="148.70" stroke="#111" stroke-width="1.3"/>
<line x1="456.67" y1="145.20" x2="456.67" y2="148.70" stroke="#111" stroke-width="1.3"/>
<line x1="488.50" y1="145.20" x2="488.50" y2="148.70" stroke="#111" stroke-width="1.3"/>
<line x1="313.42" y1="145.20" x2="313.42" y2="147.20" stroke="#111" stroke-width="1.3"/>
<line x1="345.25" y1="145.20" x2="345.25" y2="147.20" stroke="#111" stroke-width="1.3"/>
<line x1="377.08" y1="145.20" x2="377.08" y2="147.20" stroke="#111" stroke-width="1.3"/>
<line x1="408.92" y1="145.20" x2="408.92" y2="147.20" stroke="#111" stroke-width="1.3"/>
<line x1="440.75" y1="145.20" x2="440.75" y2="147.20" stroke="#111" stroke-width="1.3"/>
<line x1="472.58" y1="145.20" x2="472.58" y2="147.20" stroke="#111" stroke-width="1.3"/>
<text transform="translate(293.50 137.81) scale(0.97 1.2)" font-family='"Liberation Serif", serif' font-size="13.5" text-anchor="end" fill="#111">0</text>
<text transform="translate(293.50 115.59) scale(0.97 1.2)" font-family='"Liberation Serif", serif' font-size="13.5" text-anchor="end" fill="#111">1k</text>
<text transform="translate(293.50 93.37) scale(0.97 1.2)" font-family='"Liberation Serif", serif' font-size="13.5" text-anchor="end" fill="#111">2k</text>
<text transform="translate(293.50 71.15) scale(0.97 1.2)" font-family='"Liberation Serif", serif' font-size="13.5" text-anchor="end" fill="#111">3k</text>
<text transform="translate(293.50 48.93) scale(0.97 1.2)" font-family='"Liberation Serif", serif' font-size="13.5" text-anchor="end" fill="#111">4k</text>
<text transform="translate(293.50 26.71) scale(0.97 1.2)" font-family='"Liberation Serif", serif' font-size="13.5" text-anchor="end" fill="#111">5k</text>
<text transform="translate(298.50 161.20) scale(0.92 1.12)" font-family='"Liberation Serif", serif' font-size="14" text-anchor="middle" fill="#111">0</text>
<text transform="translate(330.33 161.20) scale(0.92 1.12)" font-family='"Liberation Serif", serif' font-size="14" text-anchor="middle" fill="#111">5</text>
<text transform="translate(362.17 161.20) scale(0.92 1.12)" font-family='"Liberation Serif", serif' font-size="14" text-anchor="middle" fill="#111">10</text>
<text transform="translate(394.00 161.20) scale(0.92 1.12)" font-family='"Liberation Serif", serif' font-size="14" text-anchor="middle" fill="#111">15</text>
<text transform="translate(425.83 161.20) scale(0.92 1.12)" font-family='"Liberation Serif", serif' font-size="14" text-anchor="middle" fill="#111">20</text>
<text transform="translate(457.67 161.20) scale(0.92 1.12)" font-family='"Liberation Serif", serif' font-size="14" text-anchor="middle" fill="#111">25</text>
<text transform="translate(489.50 161.20) scale(0.92 1.12)" font-family='"Liberation Serif", serif' font-size="14" text-anchor="middle" fill="#111">30</text>
<text transform="translate(271.00 155.50) rotate(-90) scale(1 1.2)" x="0" y="0" font-family='"Liberation Serif", serif' font-size="16" font-weight="bold" fill="#111" stroke="#111" stroke-width="0.4" textLength="152" lengthAdjust="spacingAndGlyphs">Fluorescence intensity</text>
<text transform="translate(357.00 179.00) scale(1.0 1.2)" font-family='"Liberation Serif", serif' font-size="15.5" font-weight="bold" text-anchor="start" fill="#111" stroke="#111" stroke-width="0.45" textLength="74.0" lengthAdjust="spacingAndGlyphs" >Time (min)</text>
<text transform="translate(307.30 15.00) scale(1.0 1.0)" font-family='"Liberation Serif", serif' font-size="20.5" font-weight="bold" text-anchor="start" fill="#111" stroke="#111" stroke-width="0.45" >b</text>
<text transform="translate(362.20 20.30) scale(1.0 1.0)" font-family='"Liberation Sans", sans-serif' font-size="14" font-weight="bold" text-anchor="start" fill="#111" stroke="#111" stroke-width="0.35" textLength="77.0" lengthAdjust="spacingAndGlyphs" >pUC57-ema</text>
<path d="M297.50 131.80 L320.00 131.80 L321.42 132.11 L322.83 131.95 L324.25 131.39 L325.66 130.45 L327.08 129.18 L328.50 127.63 L329.91 125.84 L331.33 123.85 L332.74 121.70 L334.16 119.44 L335.58 117.10 L336.99 114.73 L338.41 112.35 L339.82 109.98 L341.24 107.65 L342.66 105.37 L344.07 103.18 L345.49 101.09 L346.90 99.13 L348.32 97.28 L349.74 95.53 L351.15 93.89 L352.57 92.36 L353.98 90.91 L355.40 89.55 L356.82 88.28 L358.23 87.08 L359.65 85.96 L361.06 84.90 L362.48 83.91 L363.89 82.97 L365.31 82.08 L366.73 81.24 L368.14 80.44 L369.56 79.68 L370.97 78.94 L372.39 78.23 L373.81 77.54 L375.22 76.87 L376.64 76.20 L378.05 75.54 L379.47 74.90 L380.89 74.27 L382.30 73.66 L383.72 73.06 L385.13 72.47 L386.55 71.90 L387.97 71.36 L389.38 70.83 L390.80 70.32 L392.21 69.83 L393.63 69.36 L395.05 68.92 L396.46 68.50 L397.88 68.10 L399.29 67.73 L400.71 67.38 L402.13 67.06 L403.54 66.75 L404.96 66.46 L406.37 66.20 L407.79 65.96 L409.21 65.73 L410.62 65.52 L412.04 65.33 L413.45 65.16 L414.87 65.01 L416.29 64.87 L417.70 64.75 L419.12 64.64 L420.53 64.55 L421.95 64.47 L423.37 64.41 L424.78 64.35 L426.20 64.29 L427.61 64.24 L429.03 64.20 L430.45 64.15 L431.86 64.09 L433.28 64.04 L434.69 63.97 L436.11 63.89 L437.53 63.80 L438.94 63.69 L440.36 63.56 L441.77 63.41 L443.19 63.24 L444.61 63.04 L446.02 62.82 L447.44 62.56 L448.85 62.28 L450.27 61.96 L451.68 61.62 L453.10 61.25 L454.52 60.86 L455.93 60.43 L457.35 59.98 L458.76 59.49 L460.18 58.99 L461.60 58.45 L463.01 57.88 L464.43 57.29 L465.84 56.67 L467.26 56.03 L468.68 55.35 L470.09 54.66 L471.51 53.93 L472.92 53.18 L474.34 52.40 L475.76 51.59 L477.17 50.76 L478.59 49.91 L480.00 49.02 L481.42 48.12 L482.84 47.18 L484.25 46.22 L485.67 45.24 L487.08 44.23 L488.50 43.20" fill="none" stroke="#000000" stroke-width="1.3" stroke-linejoin="round"/>
<path d="M297.50 131.80 L324.00 131.80 L325.38 132.15 L326.76 132.09 L328.15 131.67 L329.53 130.92 L330.91 129.86 L332.29 128.54 L333.68 126.99 L335.06 125.25 L336.44 123.33 L337.82 121.29 L339.21 119.15 L340.59 116.95 L341.97 114.72 L343.35 112.49 L344.74 110.31 L346.12 108.19 L347.50 106.15 L348.88 104.19 L350.26 102.30 L351.65 100.48 L353.03 98.73 L354.41 97.05 L355.79 95.43 L357.18 93.88 L358.56 92.39 L359.94 90.97 L361.32 89.60 L362.71 88.29 L364.09 87.03 L365.47 85.82 L366.85 84.67 L368.24 83.57 L369.62 82.51 L371.00 81.50 L372.38 80.53 L373.76 79.60 L375.15 78.71 L376.53 77.87 L377.91 77.05 L379.29 76.28 L380.68 75.53 L382.06 74.82 L383.44 74.15 L384.82 73.50 L386.21 72.89 L387.59 72.31 L388.97 71.75 L390.35 71.22 L391.74 70.72 L393.12 70.24 L394.50 69.79 L395.88 69.36 L397.26 68.95 L398.65 68.56 L400.03 68.20 L401.41 67.85 L402.79 67.52 L404.18 67.21 L405.56 66.91 L406.94 66.63 L408.32 66.36 L409.71 66.10 L411.09 65.86 L412.47 65.62 L413.85 65.40 L415.24 65.18 L416.62 64.97 L418.00 64.77 L419.38 64.57 L420.76 64.38 L422.15 64.19 L423.53 64.00 L424.91 63.82 L426.29 63.63 L427.68 63.44 L429.06 63.26 L430.44 63.06 L431.82 62.87 L433.21 62.67 L434.59 62.46 L435.97 62.24 L437.35 62.02 L438.74 61.79 L440.12 61.54 L441.50 61.29 L442.88 61.02 L444.26 60.74 L445.65 60.45 L447.03 60.14 L448.41 59.81 L449.79 59.46 L451.18 59.10 L452.56 58.71 L453.94 58.31 L455.32 57.88 L456.71 57.43 L458.09 56.96 L459.47 56.46 L460.85 55.93 L462.24 55.38 L463.62 54.80 L465.00 54.19 L466.38 53.55 L467.76 52.88 L469.15 52.18 L470.53 51.44 L471.91 50.67 L473.29 49.86 L474.68 49.01 L476.06 48.13 L477.44 47.21 L478.82 46.25 L480.21 45.25 L481.59 44.21 L482.97 43.12 L484.35 41.99 L485.74 40.81 L487.12 39.59 L488.50 38.33" fill="none" stroke="#e8141c" stroke-width="1.3" stroke-linejoin="round"/>
<path d="M297.50 131.80 L333.00 131.80 L334.31 131.68 L335.61 131.45 L336.92 131.10 L338.23 130.64 L339.53 130.09 L340.84 129.45 L342.15 128.72 L343.45 127.91 L344.76 127.03 L346.07 126.08 L347.37 125.08 L348.68 124.03 L349.99 122.93 L351.29 121.80 L352.60 120.64 L353.91 119.45 L355.21 118.25 L356.52 117.04 L357.83 115.81 L359.13 114.59 L360.44 113.35 L361.75 112.12 L363.05 110.88 L364.36 109.64 L365.67 108.41 L366.97 107.18 L368.28 105.95 L369.59 104.73 L370.89 103.53 L372.20 102.33 L373.51 101.14 L374.82 99.97 L376.12 98.82 L377.43 97.68 L378.74 96.57 L380.04 95.48 L381.35 94.40 L382.66 93.36 L383.96 92.34 L385.27 91.35 L386.58 90.39 L387.88 89.47 L389.19 88.57 L390.50 87.72 L391.80 86.90 L393.11 86.12 L394.42 85.38 L395.72 84.68 L397.03 84.03 L398.34 83.42 L399.64 82.84 L400.95 82.31 L402.26 81.81 L403.56 81.34 L404.87 80.91 L406.18 80.50 L407.48 80.12 L408.79 79.77 L410.10 79.45 L411.40 79.14 L412.71 78.86 L414.02 78.59 L415.32 78.35 L416.63 78.12 L417.94 77.90 L419.24 77.69 L420.55 77.49 L421.86 77.31 L423.16 77.12 L424.47 76.95 L425.78 76.77 L427.08 76.60 L428.39 76.42 L429.70 76.24 L431.00 76.06 L432.31 75.87 L433.62 75.67 L434.92 75.46 L436.23 75.24 L437.54 75.01 L438.84 74.75 L440.15 74.49 L441.46 74.20 L442.76 73.89 L444.07 73.56 L445.38 73.20 L446.68 72.82 L447.99 72.42 L449.30 71.98 L450.61 71.53 L451.91 71.06 L453.22 70.56 L454.53 70.05 L455.83 69.51 L457.14 68.96 L458.45 68.40 L459.75 67.81 L461.06 67.22 L462.37 66.61 L463.67 65.98 L464.98 65.35 L466.29 64.71 L467.59 64.06 L468.90 63.40 L470.21 62.73 L471.51 62.06 L472.82 61.38 L474.13 60.70 L475.43 60.01 L476.74 59.33 L478.05 58.64 L479.35 57.95 L480.66 57.27 L481.97 56.59 L483.27 55.91 L484.58 55.23 L485.89 54.56 L487.19 53.90 L488.50 53.25" fill="none" stroke="#1a1ae6" stroke-width="1.3" stroke-linejoin="round"/>
<path d="M297.50 131.80 L338.00 131.80 L339.26 131.71 L340.53 131.57 L341.79 131.38 L343.06 131.14 L344.32 130.85 L345.59 130.52 L346.85 130.14 L348.12 129.72 L349.38 129.26 L350.65 128.75 L351.91 128.22 L353.18 127.65 L354.44 127.04 L355.71 126.40 L356.97 125.74 L358.24 125.05 L359.50 124.33 L360.76 123.59 L362.03 122.82 L363.29 122.04 L364.56 121.24 L365.82 120.42 L367.09 119.58 L368.35 118.74 L369.62 117.88 L370.88 117.02 L372.15 116.15 L373.41 115.27 L374.68 114.39 L375.94 113.51 L377.21 112.63 L378.47 111.75 L379.74 110.88 L381.00 110.01 L382.26 109.15 L383.53 108.30 L384.79 107.46 L386.06 106.63 L387.32 105.82 L388.59 105.03 L389.85 104.26 L391.12 103.50 L392.38 102.77 L393.65 102.07 L394.91 101.39 L396.18 100.74 L397.44 100.12 L398.71 99.52 L399.97 98.95 L401.24 98.40 L402.50 97.88 L403.76 97.38 L405.03 96.90 L406.29 96.44 L407.56 96.00 L408.82 95.57 L410.09 95.17 L411.35 94.78 L412.62 94.40 L413.88 94.04 L415.15 93.69 L416.41 93.35 L417.68 93.03 L418.94 92.71 L420.21 92.40 L421.47 92.10 L422.74 91.81 L424.00 91.52 L425.26 91.24 L426.53 90.95 L427.79 90.67 L429.06 90.40 L430.32 90.12 L431.59 89.84 L432.85 89.56 L434.12 89.27 L435.38 88.99 L436.65 88.69 L437.91 88.39 L439.18 88.09 L440.44 87.77 L441.71 87.45 L442.97 87.11 L444.24 86.76 L445.50 86.40 L446.76 86.03 L448.03 85.64 L449.29 85.25 L450.56 84.83 L451.82 84.41 L453.09 83.97 L454.35 83.52 L455.62 83.06 L456.88 82.58 L458.15 82.09 L459.41 81.59 L460.68 81.08 L461.94 80.56 L463.21 80.02 L464.47 79.47 L465.74 78.91 L467.00 78.34 L468.26 77.76 L469.53 77.16 L470.79 76.55 L472.06 75.93 L473.32 75.30 L474.59 74.66 L475.85 74.01 L477.12 73.35 L478.38 72.67 L479.65 71.99 L480.91 71.29 L482.18 70.58 L483.44 69.87 L484.71 69.14 L485.97 68.40 L487.24 67.65 L488.50 66.89" fill="none" stroke="#f01ef0" stroke-width="1.3" stroke-linejoin="round"/>
<path d="M297.50 131.80 L340.00 131.80 L341.25 131.84 L342.50 131.86 L343.74 131.85 L344.99 131.83 L346.24 131.79 L347.49 131.73 L348.74 131.65 L349.98 131.55 L351.23 131.44 L352.48 131.31 L353.73 131.16 L354.97 131.00 L356.22 130.82 L357.47 130.63 L358.72 130.42 L359.97 130.21 L361.21 129.97 L362.46 129.73 L363.71 129.47 L364.96 129.20 L366.21 128.92 L367.45 128.63 L368.70 128.34 L369.95 128.03 L371.20 127.71 L372.45 127.39 L373.69 127.05 L374.94 126.71 L376.19 126.37 L377.44 126.02 L378.68 125.66 L379.93 125.30 L381.18 124.93 L382.43 124.56 L383.68 124.19 L384.92 123.81 L386.17 123.43 L387.42 123.05 L388.67 122.67 L389.92 122.29 L391.16 121.91 L392.41 121.53 L393.66 121.15 L394.91 120.77 L396.16 120.39 L397.40 120.02 L398.65 119.64 L399.90 119.28 L401.15 118.91 L402.39 118.56 L403.64 118.20 L404.89 117.86 L406.14 117.51 L407.39 117.18 L408.63 116.85 L409.88 116.54 L411.13 116.23 L412.38 115.93 L413.63 115.63 L414.87 115.35 L416.12 115.08 L417.37 114.82 L418.62 114.58 L419.87 114.34 L421.11 114.12 L422.36 113.91 L423.61 113.71 L424.86 113.52 L426.11 113.34 L427.35 113.17 L428.60 113.01 L429.85 112.85 L431.10 112.71 L432.34 112.56 L433.59 112.42 L434.84 112.29 L436.09 112.15 L437.34 112.02 L438.58 111.89 L439.83 111.77 L441.08 111.64 L442.33 111.51 L443.58 111.37 L444.82 111.24 L446.07 111.10 L447.32 110.95 L448.57 110.80 L449.82 110.64 L451.06 110.48 L452.31 110.31 L453.56 110.13 L454.81 109.93 L456.05 109.73 L457.30 109.52 L458.55 109.29 L459.80 109.05 L461.05 108.80 L462.29 108.53 L463.54 108.25 L464.79 107.95 L466.04 107.63 L467.29 107.30 L468.53 106.94 L469.78 106.57 L471.03 106.19 L472.28 105.79 L473.53 105.39 L474.77 104.99 L476.02 104.59 L477.27 104.18 L478.52 103.79 L479.76 103.40 L481.01 103.03 L482.26 102.67 L483.51 102.34 L484.76 102.02 L486.00 101.74 L487.25 101.48 L488.50 101.25" fill="none" stroke="#1f8a1f" stroke-width="1.3" stroke-linejoin="round"/>
<path d="M297.50 131.80 L350.00 131.80 L351.16 131.74 L352.33 131.67 L353.49 131.60 L354.66 131.53 L355.82 131.46 L356.98 131.38 L358.15 131.31 L359.31 131.23 L360.47 131.14 L361.64 131.06 L362.80 130.97 L363.97 130.88 L365.13 130.79 L366.29 130.70 L367.46 130.60 L368.62 130.51 L369.79 130.41 L370.95 130.31 L372.11 130.21 L373.28 130.10 L374.44 130.00 L375.61 129.89 L376.77 129.78 L377.93 129.67 L379.10 129.56 L380.26 129.44 L381.42 129.33 L382.59 129.21 L383.75 129.10 L384.92 128.98 L386.08 128.86 L387.24 128.74 L388.41 128.61 L389.57 128.49 L390.74 128.37 L391.90 128.24 L393.06 128.11 L394.23 127.99 L395.39 127.86 L396.55 127.73 L397.72 127.60 L398.88 127.47 L400.05 127.34 L401.21 127.20 L402.37 127.07 L403.54 126.94 L404.70 126.80 L405.87 126.67 L407.03 126.53 L408.19 126.40 L409.36 126.26 L410.52 126.13 L411.68 125.99 L412.85 125.85 L414.01 125.72 L415.18 125.58 L416.34 125.44 L417.50 125.30 L418.67 125.17 L419.83 125.03 L421.00 124.89 L422.16 124.76 L423.32 124.62 L424.49 124.48 L425.65 124.35 L426.82 124.21 L427.98 124.07 L429.14 123.94 L430.31 123.80 L431.47 123.67 L432.63 123.54 L433.80 123.40 L434.96 123.27 L436.13 123.14 L437.29 123.01 L438.45 122.88 L439.62 122.75 L440.78 122.62 L441.95 122.49 L443.11 122.36 L444.27 122.24 L445.44 122.11 L446.60 121.99 L447.76 121.86 L448.93 121.74 L450.09 121.62 L451.26 121.50 L452.42 121.38 L453.58 121.26 L454.75 121.15 L455.91 121.03 L457.08 120.92 L458.24 120.81 L459.40 120.70 L460.57 120.59 L461.73 120.49 L462.89 120.38 L464.06 120.28 L465.22 120.18 L466.39 120.08 L467.55 119.98 L468.71 119.88 L469.88 119.79 L471.04 119.70 L472.21 119.61 L473.37 119.52 L474.53 119.43 L475.70 119.35 L476.86 119.27 L478.03 119.19 L479.19 119.11 L480.35 119.04 L481.52 118.96 L482.68 118.89 L483.84 118.83 L485.01 118.76 L486.17 118.70 L487.34 118.64 L488.50 118.58" fill="none" stroke="#141470" stroke-width="1.4" stroke-linejoin="round"/>
<path d="M297.50 131.80 L350.00 131.80 L351.16 131.75 L352.33 131.69 L353.49 131.63 L354.66 131.57 L355.82 131.50 L356.98 131.43 L358.15 131.36 L359.31 131.29 L360.47 131.22 L361.64 131.14 L362.80 131.06 L363.97 130.98 L365.13 130.89 L366.29 130.81 L367.46 130.72 L368.62 130.63 L369.79 130.54 L370.95 130.44 L372.11 130.35 L373.28 130.25 L374.44 130.15 L375.61 130.05 L376.77 129.95 L377.93 129.84 L379.10 129.74 L380.26 129.63 L381.42 129.52 L382.59 129.41 L383.75 129.30 L384.92 129.18 L386.08 129.07 L387.24 128.95 L388.41 128.83 L389.57 128.71 L390.74 128.59 L391.90 128.47 L393.06 128.35 L394.23 128.23 L395.39 128.10 L396.55 127.98 L397.72 127.85 L398.88 127.73 L400.05 127.60 L401.21 127.47 L402.37 127.34 L403.54 127.21 L404.70 127.08 L405.87 126.95 L407.03 126.82 L408.19 126.69 L409.36 126.56 L410.52 126.42 L411.68 126.29 L412.85 126.16 L414.01 126.03 L415.18 125.89 L416.34 125.76 L417.50 125.63 L418.67 125.49 L419.83 125.36 L421.00 125.22 L422.16 125.09 L423.32 124.96 L424.49 124.82 L425.65 124.69 L426.82 124.56 L427.98 124.43 L429.14 124.29 L430.31 124.16 L431.47 124.03 L432.63 123.90 L433.80 123.77 L434.96 123.64 L436.13 123.51 L437.29 123.39 L438.45 123.26 L439.62 123.13 L440.78 123.01 L441.95 122.88 L443.11 122.76 L444.27 122.64 L445.44 122.51 L446.60 122.39 L447.76 122.27 L448.93 122.16 L450.09 122.04 L451.26 121.92 L452.42 121.81 L453.58 121.69 L454.75 121.58 L455.91 121.47 L457.08 121.36 L458.24 121.26 L459.40 121.15 L460.57 121.05 L461.73 120.94 L462.89 120.84 L464.06 120.74 L465.22 120.65 L466.39 120.55 L467.55 120.46 L468.71 120.37 L469.88 120.28 L471.04 120.19 L472.21 120.11 L473.37 120.02 L474.53 119.94 L475.70 119.86 L476.86 119.79 L478.03 119.71 L479.19 119.64 L480.35 119.57 L481.52 119.50 L482.68 119.44 L483.84 119.38 L485.01 119.32 L486.17 119.26 L487.34 119.21 L488.50 119.16" fill="none" stroke="#8a2be2" stroke-width="1.6" stroke-linejoin="round"/>
<path d="M297.50 132.10 L350.00 132.10 L351.16 132.06 L352.33 132.02 L353.49 131.98 L354.66 131.93 L355.82 131.88 L356.98 131.83 L358.15 131.77 L359.31 131.71 L360.47 131.65 L361.64 131.59 L362.80 131.52 L363.97 131.45 L365.13 131.38 L366.29 131.31 L367.46 131.23 L368.62 131.15 L369.79 131.07 L370.95 130.99 L372.11 130.90 L373.28 130.81 L374.44 130.72 L375.61 130.63 L376.77 130.54 L377.93 130.44 L379.10 130.34 L380.26 130.24 L381.42 130.14 L382.59 130.04 L383.75 129.93 L384.92 129.83 L386.08 129.72 L387.24 129.61 L388.41 129.50 L389.57 129.39 L390.74 129.27 L391.90 129.16 L393.06 129.04 L394.23 128.93 L395.39 128.81 L396.55 128.69 L397.72 128.57 L398.88 128.45 L400.05 128.33 L401.21 128.20 L402.37 128.08 L403.54 127.96 L404.70 127.83 L405.87 127.71 L407.03 127.58 L408.19 127.46 L409.36 127.33 L410.52 127.20 L411.68 127.08 L412.85 126.95 L414.01 126.82 L415.18 126.69 L416.34 126.57 L417.50 126.44 L418.67 126.31 L419.83 126.18 L421.00 126.06 L422.16 125.93 L423.32 125.80 L424.49 125.68 L425.65 125.55 L426.82 125.42 L427.98 125.30 L429.14 125.17 L430.31 125.05 L431.47 124.93 L432.63 124.81 L433.80 124.68 L434.96 124.56 L436.13 124.44 L437.29 124.32 L438.45 124.21 L439.62 124.09 L440.78 123.97 L441.95 123.86 L443.11 123.75 L444.27 123.63 L445.44 123.52 L446.60 123.42 L447.76 123.31 L448.93 123.20 L450.09 123.10 L451.26 122.99 L452.42 122.89 L453.58 122.79 L454.75 122.70 L455.91 122.60 L457.08 122.51 L458.24 122.41 L459.40 122.32 L460.57 122.24 L461.73 122.15 L462.89 122.07 L464.06 121.99 L465.22 121.91 L466.39 121.83 L467.55 121.76 L468.71 121.69 L469.88 121.62 L471.04 121.55 L472.21 121.49 L473.37 121.43 L474.53 121.37 L475.70 121.31 L476.86 121.26 L478.03 121.21 L479.19 121.16 L480.35 121.12 L481.52 121.08 L482.68 121.04 L483.84 121.01 L485.01 120.98 L486.17 120.95 L487.34 120.93 L488.50 120.91" fill="none" stroke="#6d1f7d" stroke-width="1.3" stroke-linejoin="round"/>
<text transform="translate(489.50 36.50) scale(1.0 1.1)" font-family='"Liberation Serif", serif' font-size="15.5" font-weight="normal" text-anchor="start" fill="#111" >b</text>
<text transform="translate(489.50 45.20) scale(1.0 1.1)" font-family='"Liberation Serif", serif' font-size="15.5" font-weight="normal" text-anchor="start" fill="#111" >a</text>
<text transform="translate(489.50 55.50) scale(1.0 1.1)" font-family='"Liberation Serif", serif' font-size="15.5" font-weight="normal" text-anchor="start" fill="#111" >c</text>
<text transform="translate(489.50 74.60) scale(1.0 1.1)" font-family='"Liberation Serif", serif' font-size="15.5" font-weight="normal" text-anchor="start" fill="#111" >d</text>
<text transform="translate(484.40 100.70) scale(1.0 1.1)" font-family='"Liberation Serif", serif' font-size="15.5" font-weight="normal" text-anchor="start" fill="#111" >e</text>
<text transform="translate(485.20 115.00) scale(1.0 1.1)" font-family='"Liberation Serif", serif' font-size="15.5" font-weight="normal" text-anchor="start" fill="#111" >f</text>
<text transform="translate(490.00 122.30) scale(1.0 1.1)" font-family='"Liberation Serif", serif' font-size="15.5" font-weight="normal" text-anchor="start" fill="#111" >g</text>
<text transform="translate(483.60 134.10) scale(1.0 1.1)" font-family='"Liberation Serif", serif' font-size="15.5" font-weight="normal" text-anchor="start" fill="#111" >h</text>
<line x1="555.50" y1="10.20" x2="555.50" y2="148.30" stroke="#111" stroke-width="1.6"/>
<line x1="554.70" y1="147.50" x2="748.00" y2="147.50" stroke="#111" stroke-width="1.6"/>
<line x1="552.00" y1="147.50" x2="555.50" y2="147.50" stroke="#111" stroke-width="1.3"/>
<line x1="552.00" y1="122.44" x2="555.50" y2="122.44" stroke="#111" stroke-width="1.3"/>
<line x1="552.00" y1="97.38" x2="555.50" y2="97.38" stroke="#111" stroke-width="1.3"/>
<line x1="552.00" y1="72.32" x2="555.50" y2="72.32" stroke="#111" stroke-width="1.3"/>
<line x1="552.00" y1="47.26" x2="555.50" y2="47.26" stroke="#111" stroke-width="1.3"/>
<line x1="552.00" y1="22.20" x2="555.50" y2="22.20" stroke="#111" stroke-width="1.3"/>
<line x1="553.50" y1="134.97" x2="555.50" y2="134.97" stroke="#111" stroke-width="1.3"/>
<line x1="553.50" y1="109.91" x2="555.50" y2="109.91" stroke="#111" stroke-width="1.3"/>
<line x1="553.50" y1="84.85" x2="555.50" y2="84.85" stroke="#111" stroke-width="1.3"/>
<line x1="553.50" y1="59.79" x2="555.50" y2="59.79" stroke="#111" stroke-width="1.3"/>
<line x1="553.50" y1="34.73" x2="555.50" y2="34.73" stroke="#111" stroke-width="1.3"/>
<line x1="556.00" y1="147.50" x2="556.00" y2="151.00" stroke="#111" stroke-width="1.3"/>
<line x1="588.00" y1="147.50" x2="588.00" y2="151.00" stroke="#111" stroke-width="1.3"/>
<line x1="620.00" y1="147.50" x2="620.00" y2="151.00" stroke="#111" stroke-width="1.3"/>
<line x1="652.00" y1="147.50" x2="652.00" y2="151.00" stroke="#111" stroke-width="1.3"/>
<line x1="684.00" y1="147.50" x2="684.00" y2="151.00" stroke="#111" stroke-width="1.3"/>
<line x1="716.00" y1="147.50" x2="716.00" y2="151.00" stroke="#111" stroke-width="1.3"/>
<line x1="748.00" y1="147.50" x2="748.00" y2="151.00" stroke="#111" stroke-width="1.3"/>
<line x1="572.00" y1="147.50" x2="572.00" y2="149.50" stroke="#111" stroke-width="1.3"/>
<line x1="604.00" y1="147.50" x2="604.00" y2="149.50" stroke="#111" stroke-width="1.3"/>
<line x1="636.00" y1="147.50" x2="636.00" y2="149.50" stroke="#111" stroke-width="1.3"/>
<line x1="668.00" y1="147.50" x2="668.00" y2="149.50" stroke="#111" stroke-width="1.3"/>
<line x1="700.00" y1="147.50" x2="700.00" y2="149.50" stroke="#111" stroke-width="1.3"/>
<line x1="732.00" y1="147.50" x2="732.00" y2="149.50" stroke="#111" stroke-width="1.3"/>
<text transform="translate(551.50 153.01) scale(0.97 1.2)" font-family='"Liberation Serif", serif' font-size="13.5" text-anchor="end" fill="#111">0</text>
<text transform="translate(551.50 127.95) scale(0.97 1.2)" font-family='"Liberation Serif", serif' font-size="13.5" text-anchor="end" fill="#111">1k</text>
<text transform="translate(551.50 102.89) scale(0.97 1.2)" font-family='"Liberation Serif", serif' font-size="13.5" text-anchor="end" fill="#111">2k</text>
<text transform="translate(551.50 77.83) scale(0.97 1.2)" font-family='"Liberation Serif", serif' font-size="13.5" text-anchor="end" fill="#111">3k</text>
<text transform="translate(551.50 52.77) scale(0.97 1.2)" font-family='"Liberation Serif", serif' font-size="13.5" text-anchor="end" fill="#111">4k</text>
<text transform="translate(551.50 27.71) scale(0.97 1.2)" font-family='"Liberation Serif", serif' font-size="13.5" text-anchor="end" fill="#111">5k</text>
<text transform="translate(556.00 163.50) scale(0.92 1.12)" font-family='"Liberation Serif", serif' font-size="15" text-anchor="middle" fill="#111">0</text>
<text transform="translate(588.00 163.50) scale(0.92 1.12)" font-family='"Liberation Serif", serif' font-size="15" text-anchor="middle" fill="#111">5</text>
<text transform="translate(620.00 163.50) scale(0.92 1.12)" font-family='"Liberation Serif", serif' font-size="15" text-anchor="middle" fill="#111">10</text>
<text transform="translate(652.00 163.50) scale(0.92 1.12)" font-family='"Liberation Serif", serif' font-size="15" text-anchor="middle" fill="#111">15</text>
<text transform="translate(684.00 163.50) scale(0.92 1.12)" font-family='"Liberation Serif", serif' font-size="15" text-anchor="middle" fill="#111">20</text>
<text transform="translate(716.00 163.50) scale(0.92 1.12)" font-family='"Liberation Serif", serif' font-size="15" text-anchor="middle" fill="#111">25</text>
<text transform="translate(748.00 163.50) scale(0.92 1.12)" font-family='"Liberation Serif", serif' font-size="15" text-anchor="middle" fill="#111">30</text>
<text transform="translate(528.30 158.70) rotate(-90) scale(1 1.2)" x="0" y="0" font-family='"Liberation Serif", serif' font-size="16" font-weight="bold" fill="#111" stroke="#111" stroke-width="0.4" textLength="155" lengthAdjust="spacingAndGlyphs">Fluorescence intensity</text>
<text transform="translate(619.00 180.30) scale(1.0 1.2)" font-family='"Liberation Serif", serif' font-size="15.5" font-weight="bold" text-anchor="start" fill="#111" stroke="#111" stroke-width="0.45" textLength="75.0" lengthAdjust="spacingAndGlyphs" >Time (min)</text>
<text transform="translate(564.20 15.00) scale(1.0 1.0)" font-family='"Liberation Serif", serif' font-size="20.5" font-weight="bold" text-anchor="start" fill="#111" stroke="#111" stroke-width="0.45" >c</text>
<text transform="translate(616.60 17.10) scale(1.0 1.0)" font-family='"Liberation Sans", sans-serif' font-size="14" font-weight="bold" text-anchor="start" fill="#111" stroke="#111" stroke-width="0.35" textLength="92.6" lengthAdjust="spacingAndGlyphs" >pUC57-Bc18S</text>
<path d="M555.50 138.60 L572.00 138.60" fill="none" stroke="#000000" stroke-width="1.3" stroke-linejoin="round"/>
<path d="M572.00 138.60 L573.88 137.44 L574.81 136.28 L575.23 135.12 L575.54 133.97 L575.85 132.81 L576.15 131.65 L576.45 130.49 L576.75 129.33 L577.04 128.17 L577.33 127.01 L577.62 125.86 L577.90 124.70 L578.18 123.54 L578.45 122.38 L578.72 121.22 L578.99 120.06 L579.25 118.90 L579.51 117.75 L579.76 116.59 L580.01 115.43 L580.26 114.27 L580.50 113.11 L580.74 111.95 L580.98 110.79 L581.21 109.64 L581.44 108.48 L581.66 107.32 L581.88 106.16 L582.10 105.00 L582.31 103.84 L582.52 102.68 L582.73 101.53 L582.93 100.37 L583.13 99.21 L583.32 98.05 L583.51 96.89 L583.70 95.73 L583.89 94.57 L584.07 93.42 L584.25 92.26 L584.43 91.10 L584.61 89.94 L584.79 88.78 L584.97 87.62 L585.14 86.46 L585.32 85.31 L585.50 84.15 L585.68 82.99 L585.85 81.83 L586.03 80.67 L586.22 79.51 L586.40 78.35 L586.58 77.19 L586.77 76.04 L586.96 74.88 L587.15 73.72 L587.35 72.56 L587.55 71.40 L587.76 70.24 L587.96 69.08 L588.18 67.93 L588.40 66.77 L588.62 65.61 L588.85 64.45 L589.08 63.29 L589.32 62.13 L589.57 60.97 L589.83 59.82 L590.09 58.66 L590.36 57.50 L590.63 56.34 L590.92 55.18 L591.21 54.02 L591.51 52.86 L591.82 51.71 L592.14 50.55 L592.47 49.39 L592.81 48.23 L593.16 47.07 L593.52 45.91 L593.90 44.75 L594.28 43.60 L594.67 42.44 L595.08 41.28 L595.50 40.12 L595.93 38.96 L596.37 37.80 L596.83 36.64 L597.30 35.49 L597.78 34.33 L598.28 33.17 L598.79 32.01 L599.32 30.85 L599.86 29.69 L600.41 28.53 L600.99 27.38 L601.57 26.22 L602.18 25.06 L602.80 23.90 L605.60 23.90" fill="none" stroke="#000000" stroke-width="1.3" stroke-linejoin="round"/>
<path d="M555.50 138.60 L575.00 138.60" fill="none" stroke="#e8141c" stroke-width="1.3" stroke-linejoin="round"/>
<path d="M575.00 138.60 L576.62 137.44 L577.58 136.28 L578.19 135.12 L578.70 133.97 L579.19 132.81 L579.65 131.65 L580.10 130.49 L580.52 129.33 L580.92 128.17 L581.30 127.01 L581.66 125.86 L582.00 124.70 L582.33 123.54 L582.63 122.38 L582.93 121.22 L583.20 120.06 L583.47 118.90 L583.72 117.75 L583.96 116.59 L584.18 115.43 L584.40 114.27 L584.60 113.11 L584.80 111.95 L584.99 110.79 L585.17 109.64 L585.34 108.48 L585.51 107.32 L585.67 106.16 L585.83 105.00 L585.99 103.84 L586.14 102.68 L586.29 101.53 L586.44 100.37 L586.59 99.21 L586.74 98.05 L586.90 96.89 L587.05 95.73 L587.20 94.57 L587.36 93.42 L587.52 92.26 L587.67 91.10 L587.83 89.94 L587.99 88.78 L588.16 87.62 L588.32 86.46 L588.49 85.31 L588.66 84.15 L588.84 82.99 L589.01 81.83 L589.19 80.67 L589.38 79.51 L589.56 78.35 L589.75 77.19 L589.95 76.04 L590.15 74.88 L590.35 73.72 L590.56 72.56 L590.77 71.40 L590.98 70.24 L591.20 69.08 L591.43 67.93 L591.66 66.77 L591.90 65.61 L592.14 64.45 L592.39 63.29 L592.65 62.13 L592.91 60.97 L593.17 59.82 L593.45 58.66 L593.73 57.50 L594.02 56.34 L594.31 55.18 L594.61 54.02 L594.92 52.86 L595.24 51.71 L595.56 50.55 L595.90 49.39 L596.24 48.23 L596.59 47.07 L596.94 45.91 L597.31 44.75 L597.69 43.60 L598.07 42.44 L598.46 41.28 L598.87 40.12 L599.28 38.96 L599.70 37.80 L600.13 36.64 L600.58 35.49 L601.03 34.33 L601.49 33.17 L601.97 32.01 L602.45 30.85 L602.95 29.69 L603.46 28.53 L603.97 27.38 L604.50 26.22 L605.05 25.06 L605.60 23.90 L617.00 23.90" fill="none" stroke="#e8141c" stroke-width="1.3" stroke-linejoin="round"/>
<path d="M555.50 138.90 L580.00 138.90" fill="none" stroke="#1a1ae6" stroke-width="1.3" stroke-linejoin="round"/>
<path d="M580.00 138.90 L582.01 137.74 L583.24 136.58 L584.02 135.42 L584.64 134.25 L585.22 133.09 L585.78 131.93 L586.30 130.77 L586.79 129.61 L587.26 128.45 L587.70 127.28 L588.11 126.12 L588.51 124.96 L588.88 123.80 L589.22 122.64 L589.55 121.48 L589.86 120.31 L590.15 119.15 L590.43 117.99 L590.69 116.83 L590.94 115.67 L591.18 114.51 L591.41 113.34 L591.62 112.18 L591.83 111.02 L592.03 109.86 L592.23 108.70 L592.42 107.54 L592.60 106.37 L592.79 105.21 L592.98 104.05 L593.16 102.89 L593.35 101.73 L593.54 100.57 L593.74 99.41 L593.94 98.24 L594.14 97.08 L594.35 95.92 L594.57 94.76 L594.79 93.60 L595.02 92.44 L595.25 91.27 L595.48 90.11 L595.73 88.95 L595.97 87.79 L596.22 86.63 L596.48 85.47 L596.74 84.30 L597.01 83.14 L597.28 81.98 L597.56 80.82 L597.84 79.66 L598.13 78.50 L598.42 77.33 L598.71 76.17 L599.01 75.01 L599.32 73.85 L599.63 72.69 L599.95 71.53 L600.27 70.36 L600.59 69.20 L600.93 68.04 L601.26 66.88 L601.60 65.72 L601.95 64.56 L602.30 63.39 L602.65 62.23 L603.01 61.07 L603.38 59.91 L603.75 58.75 L604.12 57.59 L604.50 56.43 L604.88 55.26 L605.27 54.10 L605.66 52.94 L606.06 51.78 L606.46 50.62 L606.87 49.46 L607.28 48.29 L607.70 47.13 L608.12 45.97 L608.55 44.81 L608.98 43.65 L609.41 42.49 L609.85 41.32 L610.30 40.16 L610.75 39.00 L611.20 37.84 L611.66 36.68 L612.12 35.52 L612.59 34.35 L613.06 33.19 L613.54 32.03 L614.02 30.87 L614.50 29.71 L614.99 28.55 L615.49 27.38 L615.99 26.22 L616.49 25.06 L617.00 23.90 L632.40 23.90" fill="none" stroke="#1a1ae6" stroke-width="1.3" stroke-linejoin="round"/>
<path d="M555.50 138.90 L585.00 138.90" fill="none" stroke="#f01ef0" stroke-width="1.3" stroke-linejoin="round"/>
<path d="M585.00 138.90 L587.34 137.74 L589.23 136.58 L590.76 135.42 L591.96 134.25 L592.92 133.09 L593.68 131.93 L594.32 130.77 L594.89 129.61 L595.42 128.45 L595.94 127.28 L596.42 126.12 L596.88 124.96 L597.33 123.80 L597.74 122.64 L598.15 121.48 L598.53 120.31 L598.89 119.15 L599.24 117.99 L599.58 116.83 L599.90 115.67 L600.21 114.51 L600.51 113.34 L600.80 112.18 L601.08 111.02 L601.35 109.86 L601.62 108.70 L601.88 107.54 L602.14 106.37 L602.40 105.21 L602.66 104.05 L602.92 102.89 L603.18 101.73 L603.45 100.57 L603.71 99.41 L603.99 98.24 L604.27 97.08 L604.55 95.92 L604.84 94.76 L605.13 93.60 L605.43 92.44 L605.74 91.27 L606.05 90.11 L606.36 88.95 L606.68 87.79 L607.01 86.63 L607.34 85.47 L607.67 84.30 L608.01 83.14 L608.36 81.98 L608.71 80.82 L609.06 79.66 L609.42 78.50 L609.79 77.33 L610.16 76.17 L610.54 75.01 L610.92 73.85 L611.31 72.69 L611.70 71.53 L612.10 70.36 L612.50 69.20 L612.91 68.04 L613.32 66.88 L613.74 65.72 L614.17 64.56 L614.60 63.39 L615.03 62.23 L615.47 61.07 L615.92 59.91 L616.37 58.75 L616.82 57.59 L617.28 56.43 L617.75 55.26 L618.22 54.10 L618.70 52.94 L619.18 51.78 L619.67 50.62 L620.16 49.46 L620.66 48.29 L621.17 47.13 L621.68 45.97 L622.19 44.81 L622.71 43.65 L623.24 42.49 L623.77 41.32 L624.31 40.16 L624.85 39.00 L625.40 37.84 L625.95 36.68 L626.51 35.52 L627.07 34.35 L627.64 33.19 L628.22 32.03 L628.80 30.87 L629.39 29.71 L629.98 28.55 L630.57 27.38 L631.18 26.22 L631.79 25.06 L632.40 23.90 L644.10 23.90" fill="none" stroke="#f01ef0" stroke-width="1.3" stroke-linejoin="round"/>
<path d="M555.50 135.40 L555.50 135.40 L555.84 135.28 L556.19 135.16 L556.53 135.04 L556.88 134.91 L557.22 134.78 L557.57 134.66 L557.91 134.53 L558.26 134.40 L558.60 134.26 L558.95 134.13 L559.29 134.00 L559.63 133.87 L559.98 133.73 L560.32 133.60 L560.67 133.47 L561.01 133.33 L561.36 133.20 L561.70 133.07 L562.05 132.94 L562.39 132.81 L562.74 132.68 L563.08 132.55 L563.42 132.43 L563.77 132.30 L564.11 132.18 L564.46 132.06 L564.80 131.94 L565.15 131.83 L565.49 131.71 L565.84 131.60 L566.18 131.49 L566.53 131.39 L566.87 131.29 L567.21 131.19 L567.56 131.10 L567.90 131.01 L568.25 130.92 L568.59 130.84 L568.94 130.76 L569.28 130.69 L569.63 130.62 L569.97 130.56 L570.32 130.50 L570.66 130.45 L571.00 130.40 L571.35 130.36 L571.69 130.32 L572.04 130.28 L572.38 130.25 L572.73 130.22 L573.07 130.20 L573.42 130.18 L573.76 130.16 L574.11 130.15 L574.45 130.14 L574.79 130.13 L575.14 130.12 L575.48 130.12 L575.83 130.12 L576.17 130.12 L576.52 130.13 L576.86 130.13 L577.21 130.14 L577.55 130.15 L577.89 130.16 L578.24 130.17 L578.58 130.18 L578.93 130.20 L579.27 130.21 L579.62 130.23 L579.96 130.24 L580.31 130.25 L580.65 130.27 L581.00 130.28 L581.34 130.30 L581.68 130.31 L582.03 130.32 L582.37 130.34 L582.72 130.35 L583.06 130.36 L583.41 130.36 L583.75 130.37 L584.10 130.37 L584.44 130.38 L584.79 130.38 L585.13 130.38 L585.47 130.37 L585.82 130.37 L586.16 130.36 L586.51 130.34 L586.85 130.33 L587.20 130.31 L587.54 130.29 L587.89 130.26 L588.23 130.23 L588.58 130.20 L588.92 130.16 L589.26 130.12 L589.61 130.07 L589.95 130.02 L590.30 129.96 L590.64 129.90 L590.99 129.83 L591.33 129.76 L591.68 129.68 L592.02 129.60 L592.37 129.51 L592.71 129.42 L593.05 129.32 L593.40 129.21 L593.74 129.09 L594.09 128.97 L594.43 128.84 L594.78 128.71 L595.12 128.57 L595.47 128.42 L595.81 128.26 L596.16 128.10 L596.50 127.92" fill="none" stroke="#1f8a1f" stroke-width="1.3" stroke-linejoin="round"/>
<path d="M596.50 127.60 L597.75 126.55 L598.98 125.51 L600.03 124.46 L600.84 123.41 L601.46 122.36 L601.95 121.32 L602.37 120.27 L602.77 119.22 L603.16 118.17 L603.56 117.13 L603.95 116.08 L604.34 115.03 L604.73 113.98 L605.11 112.94 L605.50 111.89 L605.89 110.84 L606.27 109.79 L606.65 108.75 L607.04 107.70 L607.42 106.65 L607.80 105.60 L608.19 104.56 L608.57 103.51 L608.95 102.46 L609.34 101.41 L609.72 100.37 L610.10 99.32 L610.49 98.27 L610.87 97.22 L611.26 96.18 L611.65 95.13 L612.04 94.08 L612.43 93.03 L612.82 91.99 L613.21 90.94 L613.61 89.89 L614.00 88.84 L614.40 87.80 L614.81 86.75 L615.21 85.70 L615.62 84.65 L616.02 83.61 L616.44 82.56 L616.85 81.51 L617.27 80.46 L617.69 79.42 L618.11 78.37 L618.54 77.32 L618.97 76.27 L619.40 75.23 L619.84 74.18 L620.28 73.13 L620.72 72.08 L621.17 71.04 L621.62 69.99 L622.07 68.94 L622.52 67.89 L622.98 66.85 L623.44 65.80 L623.91 64.75 L624.37 63.70 L624.84 62.66 L625.32 61.61 L625.79 60.56 L626.27 59.51 L626.75 58.47 L627.24 57.42 L627.72 56.37 L628.21 55.32 L628.70 54.28 L629.20 53.23 L629.70 52.18 L630.20 51.13 L630.70 50.09 L631.21 49.04 L631.72 47.99 L632.23 46.94 L632.74 45.90 L633.26 44.85 L633.78 43.80 L634.30 42.75 L634.82 41.71 L635.35 40.66 L635.88 39.61 L636.41 38.56 L636.94 37.52 L637.48 36.47 L638.02 35.42 L638.56 34.37 L639.10 33.33 L639.65 32.28 L640.20 31.23 L640.75 30.18 L641.30 29.14 L641.86 28.09 L642.41 27.04 L642.97 25.99 L643.54 24.95 L644.10 23.90 L707.40 23.90" fill="none" stroke="#1f8a1f" stroke-width="1.3" stroke-linejoin="round"/>
<path d="M555.50 140.50 L596.00 140.50" fill="none" stroke="#141470" stroke-width="1.3" stroke-linejoin="round"/>
<path d="M596.00 140.50 L596.00 140.50 L596.94 140.33 L597.87 140.10 L598.81 139.81 L599.74 139.47 L600.68 139.06 L601.62 138.59 L602.55 138.06 L603.49 137.46 L604.43 136.79 L605.36 136.06 L606.30 135.25 L607.23 134.37 L608.17 133.41 L609.11 132.38 L610.04 131.27 L610.98 130.09 L611.91 128.82 L612.85 127.46 L613.79 126.03 L614.72 124.50 L615.66 122.89 L616.59 121.19 L617.53 119.40 L618.47 117.52 L619.40 115.57 L620.34 113.54 L621.28 111.46 L622.21 109.32 L623.15 107.15 L624.08 104.94 L625.02 102.71 L625.96 100.46 L626.89 98.21 L627.83 95.97 L628.76 93.73 L629.70 91.52 L630.64 89.34 L631.57 87.20 L632.51 85.11 L633.45 83.08 L634.38 81.11 L635.32 79.23 L636.25 77.41 L637.19 75.68 L638.13 74.01 L639.06 72.41 L640.00 70.88 L640.93 69.40 L641.87 67.99 L642.81 66.64 L643.74 65.34 L644.68 64.09 L645.62 62.88 L646.55 61.73 L647.49 60.61 L648.42 59.54 L649.36 58.50 L650.30 57.49 L651.23 56.52 L652.17 55.58 L653.10 54.67 L654.04 53.79 L654.98 52.94 L655.91 52.12 L656.85 51.32 L657.78 50.56 L658.72 49.82 L659.66 49.11 L660.59 48.42 L661.53 47.75 L662.47 47.12 L663.40 46.50 L664.34 45.91 L665.27 45.34 L666.21 44.80 L667.15 44.27 L668.08 43.77 L669.02 43.29 L669.95 42.82 L670.89 42.38 L671.83 41.95 L672.76 41.54 L673.70 41.15 L674.64 40.78 L675.57 40.43 L676.51 40.09 L677.44 39.78 L678.38 39.48 L679.32 39.19 L680.25 38.93 L681.19 38.68 L682.12 38.45 L683.06 38.23 L684.00 38.04 L684.93 37.85 L685.87 37.69 L686.81 37.54 L687.74 37.40 L688.68 37.29 L689.61 37.18 L690.55 37.10 L691.49 37.02 L692.42 36.93 L693.36 36.83 L694.29 36.69 L695.23 36.52 L696.17 36.28 L697.10 35.98 L698.04 35.60 L698.97 35.12 L699.91 34.53 L700.85 33.83 L701.78 32.99 L702.72 32.01 L703.66 30.86 L704.59 29.55 L705.53 28.05 L706.46 26.35 L707.40 24.42" fill="none" stroke="#141470" stroke-width="1.3" stroke-linejoin="round"/>
<path d="M707.40 23.90 L748.00 23.90" fill="none" stroke="#141470" stroke-width="1.3" stroke-linejoin="round"/>
<path d="M555.50 139.80 L555.50 139.80 L557.12 140.09 L558.74 140.35 L560.35 140.58 L561.97 140.78 L563.59 140.97 L565.21 141.12 L566.82 141.26 L568.44 141.36 L570.06 141.45 L571.68 141.52 L573.29 141.56 L574.91 141.58 L576.53 141.59 L578.15 141.57 L579.76 141.53 L581.38 141.48 L583.00 141.41 L584.62 141.32 L586.24 141.22 L587.85 141.10 L589.47 140.97 L591.09 140.82 L592.71 140.66 L594.32 140.48 L595.94 140.30 L597.56 140.10 L599.18 139.89 L600.79 139.68 L602.41 139.45 L604.03 139.21 L605.65 138.97 L607.26 138.72 L608.88 138.46 L610.50 138.19 L612.12 137.92 L613.74 137.65 L615.35 137.37 L616.97 137.09 L618.59 136.80 L620.21 136.51 L621.82 136.23 L623.44 135.94 L625.06 135.65 L626.68 135.36 L628.29 135.07 L629.91 134.78 L631.53 134.50 L633.15 134.22 L634.76 133.94 L636.38 133.67 L638.00 133.40 L639.62 133.14 L641.24 132.88 L642.85 132.63 L644.47 132.38 L646.09 132.13 L647.71 131.89 L649.32 131.66 L650.94 131.42 L652.56 131.20 L654.18 130.98 L655.79 130.76 L657.41 130.54 L659.03 130.34 L660.65 130.13 L662.26 129.93 L663.88 129.74 L665.50 129.54 L667.12 129.36 L668.74 129.18 L670.35 129.00 L671.97 128.83 L673.59 128.66 L675.21 128.49 L676.82 128.33 L678.44 128.18 L680.06 128.03 L681.68 127.88 L683.29 127.74 L684.91 127.60 L686.53 127.47 L688.15 127.34 L689.76 127.22 L691.38 127.10 L693.00 126.97 L694.62 126.85 L696.24 126.71 L697.85 126.56 L699.47 126.38 L701.09 126.18 L702.71 125.94 L704.32 125.67 L705.94 125.36 L707.56 124.99 L709.18 124.57 L710.79 124.09 L712.41 123.56 L714.03 123.00 L715.65 122.43 L717.26 121.87 L718.88 121.34 L720.50 120.86 L722.12 120.44 L723.74 120.08 L725.35 119.78 L726.97 119.52 L728.59 119.29 L730.21 119.10 L731.82 118.94 L733.44 118.80 L735.06 118.67 L736.68 118.56 L738.29 118.44 L739.91 118.32 L741.53 118.19 L743.15 118.05 L744.76 117.88 L746.38 117.68 L748.00 117.45" fill="none" stroke="#8a2be2" stroke-width="1.5" stroke-linejoin="round"/>
<path d="M555.50 138.20 L557.12 138.16 L558.74 138.12 L560.35 138.08 L561.97 138.04 L563.59 138.00 L565.21 137.95 L566.82 137.91 L568.44 137.86 L570.06 137.82 L571.68 137.77 L573.29 137.72 L574.91 137.68 L576.53 137.63 L578.15 137.58 L579.76 137.54 L581.38 137.49 L583.00 137.44 L584.62 137.40 L586.24 137.35 L587.85 137.31 L589.47 137.26 L591.09 137.22 L592.71 137.18 L594.32 137.14 L595.94 137.10 L597.56 137.06 L599.18 137.02 L600.79 136.98 L602.41 136.95 L604.03 136.92 L605.65 136.88 L607.26 136.85 L608.88 136.83 L610.50 136.80 L612.12 136.78 L613.74 136.76 L615.35 136.74 L616.97 136.72 L618.59 136.71 L620.21 136.70 L621.82 136.69 L623.44 136.68 L625.06 136.67 L626.68 136.66 L628.29 136.65 L629.91 136.64 L631.53 136.64 L633.15 136.63 L634.76 136.62 L636.38 136.61 L638.00 136.61 L639.62 136.60 L641.24 136.59 L642.85 136.58 L644.47 136.58 L646.09 136.57 L647.71 136.56 L649.32 136.56 L650.94 136.55 L652.56 136.55 L654.18 136.54 L655.79 136.53 L657.41 136.53 L659.03 136.52 L660.65 136.52 L662.26 136.51 L663.88 136.51 L665.50 136.50 L667.12 136.50 L668.74 136.49 L670.35 136.49 L671.97 136.48 L673.59 136.48 L675.21 136.48 L676.82 136.47 L678.44 136.47 L680.06 136.46 L681.68 136.46 L683.29 136.46 L684.91 136.45 L686.53 136.45 L688.15 136.44 L689.76 136.44 L691.38 136.44 L693.00 136.43 L694.62 136.43 L696.24 136.43 L697.85 136.42 L699.47 136.42 L701.09 136.42 L702.71 136.41 L704.32 136.41 L705.94 136.40 L707.56 136.40 L709.18 136.40 L710.79 136.39 L712.41 136.39 L714.03 136.39 L715.65 136.38 L717.26 136.38 L718.88 136.38 L720.50 136.37 L722.12 136.37 L723.74 136.37 L725.35 136.36 L726.97 136.36 L728.59 136.35 L730.21 136.35 L731.82 136.35 L733.44 136.34 L735.06 136.34 L736.68 136.33 L738.29 136.33 L739.91 136.32 L741.53 136.32 L743.15 136.31 L744.76 136.31 L746.38 136.30 L748.00 136.30" fill="none" stroke="#6d1f7d" stroke-width="1.4" stroke-linejoin="round"/>
<text transform="translate(584.30 60.30) scale(1.0 1.1)" font-family='"Liberation Sans", sans-serif' font-size="15" font-weight="normal" text-anchor="start" fill="#111" >a</text>
<text transform="translate(595.80 65.30) scale(1.0 1.1)" font-family='"Liberation Sans", sans-serif' font-size="15" font-weight="normal" text-anchor="start" fill="#111" >b</text>
<text transform="translate(605.80 66.20) scale(1.0 1.1)" font-family='"Liberation Sans", sans-serif' font-size="15" font-weight="normal" text-anchor="start" fill="#111" >c</text>
<text transform="translate(615.30 69.40) scale(1.0 1.1)" font-family='"Liberation Sans", sans-serif' font-size="15" font-weight="normal" text-anchor="start" fill="#111" >d</text>
<text transform="translate(622.40 75.60) scale(1.0 1.1)" font-family='"Liberation Sans", sans-serif' font-size="15" font-weight="normal" text-anchor="start" fill="#111" >e</text>
<text transform="translate(635.40 89.80) scale(1.0 1.1)" font-family='"Liberation Sans", sans-serif' font-size="15" font-weight="normal" text-anchor="start" fill="#111" >f</text>
<text transform="translate(712.80 117.50) scale(1.0 1.1)" font-family='"Liberation Sans", sans-serif' font-size="15" font-weight="normal" text-anchor="start" fill="#111" >g</text>
<text transform="translate(717.40 134.00) scale(1.0 1.1)" font-family='"Liberation Sans", sans-serif' font-size="15" font-weight="normal" text-anchor="start" fill="#111" >h</text>
<line x1="43.40" y1="204.90" x2="43.40" y2="342.30" stroke="#111" stroke-width="1.6"/>
<line x1="42.60" y1="341.50" x2="234.20" y2="341.50" stroke="#111" stroke-width="1.6"/>
<line x1="39.90" y1="332.40" x2="43.40" y2="332.40" stroke="#111" stroke-width="1.3"/>
<line x1="39.90" y1="295.90" x2="43.40" y2="295.90" stroke="#111" stroke-width="1.3"/>
<line x1="39.90" y1="259.40" x2="43.40" y2="259.40" stroke="#111" stroke-width="1.3"/>
<line x1="39.90" y1="222.90" x2="43.40" y2="222.90" stroke="#111" stroke-width="1.3"/>
<line x1="41.40" y1="314.15" x2="43.40" y2="314.15" stroke="#111" stroke-width="1.3"/>
<line x1="41.40" y1="277.65" x2="43.40" y2="277.65" stroke="#111" stroke-width="1.3"/>
<line x1="41.40" y1="241.15" x2="43.40" y2="241.15" stroke="#111" stroke-width="1.3"/>
<line x1="43.40" y1="341.50" x2="43.40" y2="345.00" stroke="#111" stroke-width="1.3"/>
<line x1="75.20" y1="341.50" x2="75.20" y2="345.00" stroke="#111" stroke-width="1.3"/>
<line x1="107.00" y1="341.50" x2="107.00" y2="345.00" stroke="#111" stroke-width="1.3"/>
<line x1="138.80" y1="341.50" x2="138.80" y2="345.00" stroke="#111" stroke-width="1.3"/>
<line x1="170.60" y1="341.50" x2="170.60" y2="345.00" stroke="#111" stroke-width="1.3"/>
<line x1="202.40" y1="341.50" x2="202.40" y2="345.00" stroke="#111" stroke-width="1.3"/>
<line x1="234.20" y1="341.50" x2="234.20" y2="345.00" stroke="#111" stroke-width="1.3"/>
<line x1="59.30" y1="341.50" x2="59.30" y2="343.50" stroke="#111" stroke-width="1.3"/>
<line x1="91.10" y1="341.50" x2="91.10" y2="343.50" stroke="#111" stroke-width="1.3"/>
<line x1="122.90" y1="341.50" x2="122.90" y2="343.50" stroke="#111" stroke-width="1.3"/>
<line x1="154.70" y1="341.50" x2="154.70" y2="343.50" stroke="#111" stroke-width="1.3"/>
<line x1="186.50" y1="341.50" x2="186.50" y2="343.50" stroke="#111" stroke-width="1.3"/>
<line x1="218.30" y1="341.50" x2="218.30" y2="343.50" stroke="#111" stroke-width="1.3"/>
<text transform="translate(39.40 337.91) scale(0.97 1.2)" font-family='"Liberation Serif", serif' font-size="13.5" text-anchor="end" fill="#111">0</text>
<text transform="translate(39.40 301.41) scale(0.97 1.2)" font-family='"Liberation Serif", serif' font-size="13.5" text-anchor="end" fill="#111">1k</text>
<text transform="translate(39.40 264.91) scale(0.97 1.2)" font-family='"Liberation Serif", serif' font-size="13.5" text-anchor="end" fill="#111">2k</text>
<text transform="translate(39.40 228.41) scale(0.97 1.2)" font-family='"Liberation Serif", serif' font-size="13.5" text-anchor="end" fill="#111">3k</text>
<text transform="translate(43.40 357.00) scale(0.92 1.12)" font-family='"Liberation Serif", serif' font-size="14.5" text-anchor="middle" fill="#111">0</text>
<text transform="translate(75.20 357.00) scale(0.92 1.12)" font-family='"Liberation Serif", serif' font-size="14.5" text-anchor="middle" fill="#111">5</text>
<text transform="translate(107.00 357.00) scale(0.92 1.12)" font-family='"Liberation Serif", serif' font-size="14.5" text-anchor="middle" fill="#111">10</text>
<text transform="translate(138.80 357.00) scale(0.92 1.12)" font-family='"Liberation Serif", serif' font-size="14.5" text-anchor="middle" fill="#111">15</text>
<text transform="translate(170.60 357.00) scale(0.92 1.12)" font-family='"Liberation Serif", serif' font-size="14.5" text-anchor="middle" fill="#111">20</text>
<text transform="translate(202.40 357.00) scale(0.92 1.12)" font-family='"Liberation Serif", serif' font-size="14.5" text-anchor="middle" fill="#111">25</text>
<text transform="translate(234.20 357.00) scale(0.92 1.12)" font-family='"Liberation Serif", serif' font-size="14.5" text-anchor="middle" fill="#111">30</text>
<text transform="translate(14.50 350.40) rotate(-90) scale(1 1.2)" x="0" y="0" font-family='"Liberation Serif", serif' font-size="16" font-weight="bold" fill="#111" stroke="#111" stroke-width="0.4" textLength="152" lengthAdjust="spacingAndGlyphs">Fluorescence intensity</text>
<text transform="translate(106.00 372.80) scale(1.0 1.2)" font-family='"Liberation Serif", serif' font-size="15.5" font-weight="bold" text-anchor="start" fill="#111" stroke="#111" stroke-width="0.45" textLength="75.0" lengthAdjust="spacingAndGlyphs" >Time (min)</text>
<text transform="translate(50.40 210.50) scale(1.0 1.0)" font-family='"Liberation Serif", serif' font-size="20.5" font-weight="bold" text-anchor="start" fill="#111" stroke="#111" stroke-width="0.45" >d</text>
<text transform="translate(97.40 215.60) scale(1.0 1.0)" font-family='"Liberation Sans", sans-serif' font-size="14" font-weight="bold" text-anchor="start" fill="#111" stroke="#111" stroke-width="0.35" textLength="90.2" lengthAdjust="spacingAndGlyphs" >pUC57-Te18S</text>
<path d="M43.40 327.50 L64.00 328.10 L65.49 326.96 L66.99 325.51 L68.48 323.79 L69.98 321.82 L71.47 319.67 L72.97 317.35 L74.46 314.92 L75.96 312.42 L77.45 309.88 L78.95 307.35 L80.44 304.85 L81.94 302.40 L83.43 300.04 L84.93 297.78 L86.42 295.62 L87.92 293.57 L89.41 291.61 L90.91 289.74 L92.40 287.96 L93.90 286.26 L95.39 284.64 L96.89 283.09 L98.38 281.62 L99.88 280.21 L101.37 278.86 L102.87 277.57 L104.36 276.34 L105.86 275.15 L107.35 274.01 L108.85 272.91 L110.34 271.85 L111.84 270.84 L113.33 269.86 L114.83 268.92 L116.32 268.01 L117.82 267.15 L119.31 266.31 L120.81 265.51 L122.30 264.74 L123.80 264.00 L125.29 263.29 L126.79 262.60 L128.28 261.94 L129.78 261.31 L131.27 260.70 L132.77 260.11 L134.26 259.55 L135.76 259.00 L137.25 258.47 L138.75 257.96 L140.24 257.47 L141.74 256.99 L143.23 256.52 L144.73 256.07 L146.22 255.62 L147.72 255.19 L149.21 254.76 L150.71 254.34 L152.20 253.93 L153.70 253.52 L155.19 253.12 L156.69 252.71 L158.18 252.31 L159.68 251.91 L161.17 251.50 L162.67 251.10 L164.16 250.69 L165.66 250.28 L167.15 249.87 L168.65 249.46 L170.14 249.05 L171.64 248.64 L173.13 248.23 L174.63 247.83 L176.12 247.42 L177.62 247.02 L179.11 246.62 L180.61 246.23 L182.10 245.84 L183.60 245.45 L185.09 245.07 L186.59 244.69 L188.08 244.32 L189.58 243.95 L191.07 243.60 L192.57 243.24 L194.06 242.90 L195.56 242.56 L197.05 242.23 L198.55 241.92 L200.04 241.60 L201.54 241.30 L203.03 241.01 L204.53 240.73 L206.02 240.46 L207.52 240.21 L209.01 239.96 L210.51 239.72 L212.00 239.50 L212.55 239.42 L213.10 239.34 L213.65 239.27 L214.21 239.20 L214.76 239.12 L215.31 239.05 L215.86 238.97 L216.41 238.88 L216.96 238.78 L217.51 238.67 L218.06 238.55 L218.62 238.41 L219.17 238.25 L219.72 237.99 L220.27 237.64 L220.82 237.20 L221.37 236.68 L221.92 236.12 L222.47 235.51 L223.03 234.87 L223.58 234.22 L224.13 233.58 L224.68 232.95 L225.23 232.34 L225.78 231.61 L226.33 230.83 L226.88 230.13 L227.44 229.60 L227.99 229.30 L228.54 229.05 L229.09 228.83 L229.64 228.65 L230.19 228.48 L230.74 228.33 L231.29 228.19 L231.85 228.06 L232.40 227.92 L232.95 227.77 L233.50 227.60" fill="none" stroke="#000000" stroke-width="1.3" stroke-linejoin="round"/>
<path d="M43.40 327.50 L68.00 328.15 L69.45 327.01 L70.91 325.54 L72.36 323.78 L73.82 321.78 L75.27 319.57 L76.73 317.19 L78.18 314.68 L79.64 312.09 L81.09 309.43 L82.55 306.77 L84.00 304.13 L85.45 301.56 L86.91 299.09 L88.36 296.75 L89.82 294.52 L91.27 292.41 L92.73 290.41 L94.18 288.51 L95.64 286.71 L97.09 285.00 L98.55 283.38 L100.00 281.85 L101.45 280.39 L102.91 279.00 L104.36 277.68 L105.82 276.43 L107.27 275.23 L108.73 274.08 L110.18 272.98 L111.64 271.93 L113.09 270.92 L114.55 269.96 L116.00 269.04 L117.45 268.16 L118.91 267.32 L120.36 266.52 L121.82 265.76 L123.27 265.03 L124.73 264.33 L126.18 263.67 L127.64 263.03 L129.09 262.43 L130.55 261.85 L132.00 261.30 L133.45 260.77 L134.91 260.27 L136.36 259.78 L137.82 259.32 L139.27 258.87 L140.73 258.44 L142.18 258.03 L143.64 257.63 L145.09 257.24 L146.55 256.86 L148.00 256.49 L149.45 256.13 L150.91 255.78 L152.36 255.43 L153.82 255.08 L155.27 254.73 L156.73 254.39 L158.18 254.04 L159.64 253.69 L161.09 253.33 L162.55 252.97 L164.00 252.60 L165.45 252.22 L166.91 251.83 L168.36 251.43 L169.82 251.01 L171.27 250.58 L172.73 250.13 L174.18 249.66 L175.64 249.18 L177.09 248.67 L178.55 248.15 L180.00 247.61 L181.45 247.06 L182.91 246.50 L184.36 245.94 L185.82 245.37 L187.27 244.80 L188.73 244.23 L190.18 243.66 L191.64 243.10 L193.09 242.55 L194.55 242.01 L196.00 241.49 L197.45 240.98 L198.91 240.49 L200.36 240.03 L201.82 239.58 L203.27 239.17 L204.73 238.78 L206.18 238.43 L207.64 238.11 L209.09 237.83 L210.55 237.59 L212.00 237.39 L212.55 237.18 L213.10 236.86 L213.65 236.47 L214.21 236.02 L214.76 235.42 L215.31 234.67 L215.86 233.84 L216.41 232.99 L216.96 232.18 L217.51 231.48 L218.06 230.95 L218.62 230.51 L219.17 230.10 L219.72 229.72 L220.27 229.35 L220.82 229.01 L221.37 228.69 L221.92 228.39 L222.47 228.11 L223.03 227.85 L223.58 227.59 L224.13 227.35 L224.68 227.13 L225.23 226.91 L225.78 226.71 L226.33 226.51 L226.88 226.33 L227.44 226.16 L227.99 226.00 L228.54 225.84 L229.09 225.69 L229.64 225.54 L230.19 225.40 L230.74 225.25 L231.29 225.11 L231.85 224.96 L232.40 224.81 L232.95 224.66 L233.50 224.50" fill="none" stroke="#e8141c" stroke-width="1.3" stroke-linejoin="round"/>
<path d="M43.40 327.50 L72.00 327.56 L73.41 327.08 L74.83 325.97 L76.24 324.31 L77.66 322.19 L79.07 319.71 L80.48 316.96 L81.90 314.02 L83.31 310.99 L84.73 307.96 L86.14 304.99 L87.56 302.14 L88.97 299.45 L90.38 296.93 L91.80 294.55 L93.21 292.30 L94.63 290.14 L96.04 288.05 L97.45 286.03 L98.87 284.09 L100.28 282.22 L101.70 280.45 L103.11 278.76 L104.53 277.16 L105.94 275.67 L107.35 274.29 L108.77 273.01 L110.18 271.82 L111.60 270.71 L113.01 269.67 L114.42 268.70 L115.84 267.79 L117.25 266.91 L118.67 266.07 L120.08 265.26 L121.49 264.45 L122.91 263.66 L124.32 262.88 L125.74 262.12 L127.15 261.36 L128.57 260.62 L129.98 259.89 L131.39 259.18 L132.81 258.48 L134.22 257.80 L135.64 257.13 L137.05 256.48 L138.46 255.85 L139.88 255.23 L141.29 254.64 L142.71 254.06 L144.12 253.51 L145.54 252.97 L146.95 252.46 L148.36 251.97 L149.78 251.50 L151.19 251.06 L152.61 250.64 L154.02 250.23 L155.43 249.85 L156.85 249.47 L158.26 249.11 L159.68 248.76 L161.09 248.41 L162.51 248.07 L163.92 247.73 L165.33 247.39 L166.75 247.04 L168.16 246.69 L169.58 246.33 L170.99 245.95 L172.40 245.57 L173.82 245.16 L175.23 244.74 L176.65 244.30 L178.06 243.84 L179.47 243.36 L180.89 242.88 L182.30 242.38 L183.72 241.88 L185.13 241.37 L186.55 240.87 L187.96 240.36 L189.37 239.87 L190.79 239.38 L192.20 238.90 L193.62 238.44 L195.03 237.99 L196.44 237.56 L197.86 237.16 L199.27 236.78 L200.69 236.43 L202.10 236.11 L203.52 235.82 L204.93 235.58 L206.34 235.37 L207.76 235.21 L209.17 235.09 L210.59 235.02 L212.00 235.00 L212.55 234.82 L213.10 234.43 L213.65 233.92 L214.21 233.40 L214.76 232.73 L215.31 231.91 L215.86 231.01 L216.41 230.09 L216.96 229.22 L217.51 228.45 L218.06 227.84 L218.62 227.33 L219.17 226.85 L219.72 226.39 L220.27 225.96 L220.82 225.55 L221.37 225.16 L221.92 224.80 L222.47 224.45 L223.03 224.13 L223.58 223.82 L224.13 223.53 L224.68 223.25 L225.23 222.99 L225.78 222.75 L226.33 222.52 L226.88 222.30 L227.44 222.09 L227.99 221.90 L228.54 221.71 L229.09 221.53 L229.64 221.35 L230.19 221.17 L230.74 221.00 L231.29 220.83 L231.85 220.65 L232.40 220.47 L232.95 220.29 L233.50 220.10" fill="none" stroke="#1a1ae6" stroke-width="1.3" stroke-linejoin="round"/>
<path d="M43.40 327.50 L78.00 327.94 L79.35 326.97 L80.71 325.56 L82.06 323.78 L83.41 321.70 L84.77 319.39 L86.12 316.93 L87.47 314.37 L88.83 311.80 L90.18 309.29 L91.54 306.87 L92.89 304.54 L94.24 302.32 L95.60 300.21 L96.95 298.20 L98.30 296.28 L99.66 294.41 L101.01 292.56 L102.36 290.72 L103.72 288.86 L105.07 286.95 L106.42 285.03 L107.78 283.13 L109.13 281.25 L110.48 279.43 L111.84 277.69 L113.19 276.05 L114.55 274.54 L115.90 273.17 L117.25 271.91 L118.61 270.76 L119.96 269.72 L121.31 268.76 L122.67 267.87 L124.02 267.06 L125.37 266.29 L126.73 265.58 L128.08 264.89 L129.43 264.23 L130.79 263.58 L132.14 262.96 L133.49 262.36 L134.85 261.78 L136.20 261.22 L137.56 260.68 L138.91 260.15 L140.26 259.65 L141.62 259.16 L142.97 258.69 L144.32 258.24 L145.68 257.80 L147.03 257.39 L148.38 256.99 L149.74 256.60 L151.09 256.23 L152.44 255.88 L153.80 255.54 L155.15 255.20 L156.51 254.87 L157.86 254.55 L159.21 254.23 L160.57 253.91 L161.92 253.58 L163.27 253.25 L164.63 252.91 L165.98 252.56 L167.33 252.20 L168.69 251.82 L170.04 251.43 L171.39 251.01 L172.75 250.57 L174.10 250.11 L175.45 249.62 L176.81 249.10 L178.16 248.56 L179.52 248.00 L180.87 247.42 L182.22 246.83 L183.58 246.22 L184.93 245.61 L186.28 245.00 L187.64 244.38 L188.99 243.77 L190.34 243.17 L191.70 242.58 L193.05 242.00 L194.40 241.44 L195.76 240.91 L197.11 240.39 L198.46 239.91 L199.82 239.46 L201.17 239.04 L202.53 238.66 L203.88 238.32 L205.23 238.03 L206.59 237.79 L207.94 237.61 L209.29 237.48 L210.65 237.41 L212.00 237.40 L212.55 237.22 L213.10 236.81 L213.65 236.31 L214.21 235.82 L214.76 235.26 L215.31 234.61 L215.86 233.92 L216.41 233.22 L216.96 232.53 L217.51 231.89 L218.06 231.34 L218.62 230.82 L219.17 230.31 L219.72 229.80 L220.27 229.29 L220.82 228.81 L221.37 228.34 L221.92 227.89 L222.47 227.48 L223.03 227.10 L223.58 226.76 L224.13 226.46 L224.68 226.22 L225.23 226.02 L225.78 225.85 L226.33 225.70 L226.88 225.56 L227.44 225.43 L227.99 225.31 L228.54 225.20 L229.09 225.10 L229.64 225.00 L230.19 224.90 L230.74 224.81 L231.29 224.71 L231.85 224.62 L232.40 224.52 L232.95 224.41 L233.50 224.30" fill="none" stroke="#f01ef0" stroke-width="1.3" stroke-linejoin="round"/>
<path d="M43.40 327.50 L82.00 327.68 L83.31 326.83 L84.63 325.86 L85.94 324.79 L87.25 323.60 L88.57 322.33 L89.88 320.97 L91.19 319.54 L92.51 318.03 L93.82 316.47 L95.13 314.86 L96.44 313.20 L97.76 311.51 L99.07 309.80 L100.38 308.06 L101.70 306.32 L103.01 304.58 L104.32 302.84 L105.64 301.13 L106.95 299.43 L108.26 297.77 L109.58 296.14 L110.89 294.54 L112.20 292.97 L113.52 291.44 L114.83 289.94 L116.14 288.49 L117.45 287.07 L118.77 285.69 L120.08 284.36 L121.39 283.07 L122.71 281.82 L124.02 280.62 L125.33 279.46 L126.65 278.36 L127.96 277.30 L129.27 276.30 L130.59 275.35 L131.90 274.45 L133.21 273.60 L134.53 272.80 L135.84 272.04 L137.15 271.33 L138.46 270.66 L139.78 270.03 L141.09 269.43 L142.40 268.87 L143.72 268.34 L145.03 267.84 L146.34 267.37 L147.66 266.93 L148.97 266.50 L150.28 266.10 L151.60 265.71 L152.91 265.34 L154.22 264.99 L155.54 264.65 L156.85 264.31 L158.16 263.98 L159.47 263.66 L160.79 263.34 L162.10 263.02 L163.41 262.70 L164.73 262.37 L166.04 262.04 L167.35 261.70 L168.67 261.35 L169.98 260.98 L171.29 260.60 L172.61 260.20 L173.92 259.78 L175.23 259.33 L176.55 258.87 L177.86 258.38 L179.17 257.87 L180.48 257.34 L181.80 256.81 L183.11 256.25 L184.42 255.69 L185.74 255.12 L187.05 254.55 L188.36 253.97 L189.68 253.39 L190.99 252.81 L192.30 252.24 L193.62 251.67 L194.93 251.11 L196.24 250.56 L197.56 250.03 L198.87 249.50 L200.18 249.00 L201.49 248.52 L202.81 248.06 L204.12 247.63 L205.43 247.22 L206.75 246.84 L208.06 246.49 L209.37 246.18 L210.69 245.90 L212.00 245.66 L212.55 245.48 L213.10 245.25 L213.65 244.98 L214.21 244.68 L214.76 244.28 L215.31 243.81 L215.86 243.30 L216.41 242.77 L216.96 242.27 L217.51 241.82 L218.06 241.46 L218.62 241.17 L219.17 240.90 L219.72 240.65 L220.27 240.42 L220.82 240.20 L221.37 239.99 L221.92 239.79 L222.47 239.59 L223.03 239.39 L223.58 239.19 L224.13 238.97 L224.68 238.74 L225.23 238.50 L225.78 238.24 L226.33 237.98 L226.88 237.72 L227.44 237.45 L227.99 237.18 L228.54 236.91 L229.09 236.63 L229.64 236.35 L230.19 236.07 L230.74 235.79 L231.29 235.51 L231.85 235.23 L232.40 234.95 L232.95 234.67 L233.50 234.40" fill="none" stroke="#1f8a1f" stroke-width="1.3" stroke-linejoin="round"/>
<path d="M43.40 327.50 L93.00 327.50 L94.18 326.72 L95.37 325.91 L96.55 325.08 L97.74 324.24 L98.92 323.38 L100.11 322.50 L101.29 321.61 L102.48 320.71 L103.66 319.79 L104.85 318.87 L106.03 317.95 L107.22 317.02 L108.40 316.08 L109.59 315.15 L110.77 314.21 L111.96 313.28 L113.14 312.35 L114.33 311.43 L115.51 310.51 L116.70 309.61 L117.88 308.71 L119.07 307.83 L120.25 306.96 L121.44 306.11 L122.62 305.28 L123.81 304.46 L124.99 303.67 L126.18 302.89 L127.36 302.13 L128.55 301.39 L129.73 300.67 L130.92 299.96 L132.10 299.28 L133.29 298.61 L134.47 297.96 L135.66 297.33 L136.84 296.72 L138.03 296.13 L139.21 295.56 L140.39 295.01 L141.58 294.48 L142.76 293.96 L143.95 293.47 L145.13 292.99 L146.32 292.54 L147.50 292.10 L148.69 291.68 L149.87 291.28 L151.06 290.89 L152.24 290.51 L153.43 290.15 L154.61 289.80 L155.80 289.46 L156.98 289.13 L158.17 288.81 L159.35 288.49 L160.54 288.19 L161.72 287.88 L162.91 287.59 L164.09 287.29 L165.28 287.00 L166.46 286.70 L167.65 286.41 L168.83 286.12 L170.02 285.82 L171.20 285.52 L172.39 285.22 L173.57 284.91 L174.76 284.60 L175.94 284.29 L177.13 283.98 L178.31 283.66 L179.50 283.34 L180.68 283.02 L181.87 282.70 L183.05 282.38 L184.24 282.05 L185.42 281.72 L186.61 281.39 L187.79 281.06 L188.97 280.73 L190.16 280.40 L191.34 280.07 L192.53 279.74 L193.71 279.40 L194.90 279.07 L196.08 278.74 L197.27 278.41 L198.45 278.07 L199.64 277.74 L200.82 277.41 L202.01 277.08 L203.19 276.75 L204.38 276.43 L205.56 276.10 L206.75 275.78 L207.93 275.46 L209.12 275.14 L210.30 274.82 L211.49 274.50 L212.67 274.19 L213.86 273.88 L215.04 273.57 L216.23 273.27 L217.41 272.97 L218.60 272.67 L219.78 272.37 L220.97 272.08 L222.15 271.80 L223.34 271.51 L224.52 271.23 L225.71 270.96 L226.89 270.69 L228.08 270.42 L229.26 270.16 L230.45 269.91 L231.63 269.66 L232.82 269.41 L234.00 269.17" fill="none" stroke="#141470" stroke-width="1.3" stroke-linejoin="round"/>
<path d="M43.40 327.50 L92.00 327.50 L93.19 327.40 L94.39 327.25 L95.58 327.05 L96.77 326.80 L97.97 326.49 L99.16 326.15 L100.35 325.76 L101.55 325.34 L102.74 324.88 L103.93 324.38 L105.13 323.86 L106.32 323.31 L107.51 322.73 L108.71 322.13 L109.90 321.52 L111.09 320.89 L112.29 320.24 L113.48 319.59 L114.67 318.93 L115.87 318.26 L117.06 317.59 L118.25 316.92 L119.45 316.26 L120.64 315.61 L121.83 314.96 L123.03 314.33 L124.22 313.71 L125.41 313.10 L126.61 312.51 L127.80 311.94 L128.99 311.39 L130.18 310.86 L131.38 310.35 L132.57 309.86 L133.76 309.40 L134.96 308.96 L136.15 308.54 L137.34 308.15 L138.54 307.79 L139.73 307.44 L140.92 307.10 L142.12 306.78 L143.31 306.47 L144.50 306.17 L145.70 305.87 L146.89 305.58 L148.08 305.30 L149.28 305.02 L150.47 304.74 L151.66 304.47 L152.86 304.21 L154.05 303.94 L155.24 303.69 L156.44 303.43 L157.63 303.18 L158.82 302.94 L160.02 302.70 L161.21 302.46 L162.40 302.23 L163.60 302.00 L164.79 301.77 L165.98 301.55 L167.18 301.33 L168.37 301.12 L169.56 300.90 L170.76 300.69 L171.95 300.49 L173.14 300.28 L174.34 300.08 L175.53 299.88 L176.72 299.69 L177.92 299.49 L179.11 299.30 L180.30 299.12 L181.50 298.93 L182.69 298.75 L183.88 298.56 L185.08 298.38 L186.27 298.21 L187.46 298.03 L188.66 297.85 L189.85 297.68 L191.04 297.51 L192.24 297.34 L193.43 297.17 L194.62 297.00 L195.82 296.83 L197.01 296.67 L198.20 296.50 L199.39 296.34 L200.59 296.17 L201.78 296.01 L202.97 295.85 L204.17 295.68 L205.36 295.52 L206.55 295.36 L207.75 295.20 L208.94 295.03 L210.13 294.87 L211.33 294.71 L212.52 294.55 L213.71 294.38 L214.91 294.22 L216.10 294.05 L217.29 293.89 L218.49 293.72 L219.68 293.56 L220.87 293.39 L222.07 293.22 L223.26 293.05 L224.45 292.88 L225.65 292.71 L226.84 292.53 L228.03 292.36 L229.23 292.18 L230.42 292.00 L231.61 291.82 L232.81 291.63 L234.00 291.45" fill="none" stroke="#8a2be2" stroke-width="1.3" stroke-linejoin="round"/>
<path d="M43.40 328.00 L45.00 327.97 L46.60 327.94 L48.21 327.91 L49.81 327.88 L51.41 327.85 L53.01 327.82 L54.61 327.79 L56.21 327.76 L57.82 327.73 L59.42 327.70 L61.02 327.67 L62.62 327.64 L64.22 327.62 L65.82 327.59 L67.43 327.56 L69.03 327.53 L70.63 327.50 L72.23 327.47 L73.83 327.45 L75.43 327.42 L77.04 327.39 L78.64 327.36 L80.24 327.33 L81.84 327.31 L83.44 327.28 L85.04 327.25 L86.65 327.22 L88.25 327.19 L89.85 327.16 L91.45 327.13 L93.05 327.10 L94.65 327.07 L96.26 327.04 L97.86 327.01 L99.46 326.98 L101.06 326.95 L102.66 326.92 L104.26 326.89 L105.87 326.85 L107.47 326.82 L109.07 326.79 L110.67 326.75 L112.27 326.72 L113.87 326.68 L115.48 326.65 L117.08 326.61 L118.68 326.58 L120.28 326.54 L121.88 326.50 L123.48 326.46 L125.09 326.42 L126.69 326.38 L128.29 326.34 L129.89 326.30 L131.49 326.26 L133.09 326.22 L134.70 326.17 L136.30 326.13 L137.90 326.08 L139.50 326.03 L141.10 325.98 L142.70 325.93 L144.31 325.88 L145.91 325.83 L147.51 325.77 L149.11 325.72 L150.71 325.66 L152.31 325.61 L153.92 325.55 L155.52 325.49 L157.12 325.43 L158.72 325.37 L160.32 325.31 L161.92 325.25 L163.53 325.19 L165.13 325.12 L166.73 325.06 L168.33 324.99 L169.93 324.93 L171.53 324.86 L173.14 324.80 L174.74 324.73 L176.34 324.67 L177.94 324.60 L179.54 324.53 L181.14 324.46 L182.75 324.39 L184.35 324.32 L185.95 324.26 L187.55 324.19 L189.15 324.12 L190.75 324.05 L192.36 323.98 L193.96 323.91 L195.56 323.84 L197.16 323.77 L198.76 323.70 L200.36 323.63 L201.97 323.55 L203.57 323.48 L205.17 323.41 L206.77 323.34 L208.37 323.27 L209.97 323.20 L211.58 323.14 L213.18 323.07 L214.78 323.00 L216.38 322.93 L217.98 322.86 L219.58 322.79 L221.19 322.72 L222.79 322.66 L224.39 322.59 L225.99 322.52 L227.59 322.46 L229.19 322.39 L230.80 322.33 L232.40 322.26 L234.00 322.20" fill="none" stroke="#6d1f7d" stroke-width="1.5" stroke-linejoin="round"/>
<text transform="translate(69.30 317.20) scale(1.0 1.08)" font-family='"Liberation Serif", serif' font-size="16.5" font-weight="normal" text-anchor="start" fill="#111" >a</text>
<text transform="translate(77.10 317.20) scale(1.0 1.08)" font-family='"Liberation Serif", serif' font-size="16.5" font-weight="normal" text-anchor="start" fill="#111" >b</text>
<text transform="translate(85.10 317.20) scale(1.0 1.08)" font-family='"Liberation Serif", serif' font-size="16.5" font-weight="normal" text-anchor="start" fill="#111" >c</text>
<text transform="translate(92.10 317.20) scale(1.0 1.08)" font-family='"Liberation Serif", serif' font-size="16.5" font-weight="normal" text-anchor="start" fill="#111" >d</text>
<text transform="translate(106.50 308.40) scale(1.0 1.08)" font-family='"Liberation Serif", serif' font-size="16.5" font-weight="normal" text-anchor="start" fill="#111" >e</text>
<text transform="translate(124.50 314.50) scale(1.0 1.08)" font-family='"Liberation Serif", serif' font-size="16.5" font-weight="normal" text-anchor="start" fill="#111" >f</text>
<text transform="translate(132.00 319.00) scale(1.0 1.08)" font-family='"Liberation Serif", serif' font-size="16.5" font-weight="normal" text-anchor="start" fill="#111" >g</text>
<text transform="translate(206.80 323.30) scale(1.0 1.08)" font-family='"Liberation Serif", serif' font-size="16.5" font-weight="normal" text-anchor="start" fill="#111" >h</text>
<line x1="297.20" y1="203.40" x2="297.20" y2="342.40" stroke="#111" stroke-width="1.6"/>
<line x1="296.40" y1="341.60" x2="492.60" y2="341.60" stroke="#111" stroke-width="1.6"/>
<line x1="293.70" y1="331.40" x2="297.20" y2="331.40" stroke="#111" stroke-width="1.3"/>
<line x1="293.70" y1="299.40" x2="297.20" y2="299.40" stroke="#111" stroke-width="1.3"/>
<line x1="293.70" y1="267.40" x2="297.20" y2="267.40" stroke="#111" stroke-width="1.3"/>
<line x1="293.70" y1="235.40" x2="297.20" y2="235.40" stroke="#111" stroke-width="1.3"/>
<line x1="293.70" y1="203.40" x2="297.20" y2="203.40" stroke="#111" stroke-width="1.3"/>
<line x1="295.20" y1="315.40" x2="297.20" y2="315.40" stroke="#111" stroke-width="1.3"/>
<line x1="295.20" y1="283.40" x2="297.20" y2="283.40" stroke="#111" stroke-width="1.3"/>
<line x1="295.20" y1="251.40" x2="297.20" y2="251.40" stroke="#111" stroke-width="1.3"/>
<line x1="295.20" y1="219.40" x2="297.20" y2="219.40" stroke="#111" stroke-width="1.3"/>
<line x1="313.70" y1="341.60" x2="313.70" y2="345.10" stroke="#111" stroke-width="1.3"/>
<line x1="355.77" y1="341.60" x2="355.77" y2="345.10" stroke="#111" stroke-width="1.3"/>
<line x1="397.85" y1="341.60" x2="397.85" y2="345.10" stroke="#111" stroke-width="1.3"/>
<line x1="439.92" y1="341.60" x2="439.92" y2="345.10" stroke="#111" stroke-width="1.3"/>
<line x1="482.00" y1="341.60" x2="482.00" y2="345.10" stroke="#111" stroke-width="1.3"/>
<line x1="334.74" y1="341.60" x2="334.74" y2="343.60" stroke="#111" stroke-width="1.3"/>
<line x1="376.81" y1="341.60" x2="376.81" y2="343.60" stroke="#111" stroke-width="1.3"/>
<line x1="418.89" y1="341.60" x2="418.89" y2="343.60" stroke="#111" stroke-width="1.3"/>
<line x1="460.96" y1="341.60" x2="460.96" y2="343.60" stroke="#111" stroke-width="1.3"/>
<text transform="translate(293.20 336.91) scale(0.97 1.2)" font-family='"Liberation Serif", serif' font-size="13.5" text-anchor="end" fill="#111">0</text>
<text transform="translate(293.20 304.91) scale(0.97 1.2)" font-family='"Liberation Serif", serif' font-size="13.5" text-anchor="end" fill="#111">30</text>
<text transform="translate(293.20 272.91) scale(0.97 1.2)" font-family='"Liberation Serif", serif' font-size="13.5" text-anchor="end" fill="#111">60</text>
<text transform="translate(293.20 240.91) scale(0.97 1.2)" font-family='"Liberation Serif", serif' font-size="13.5" text-anchor="end" fill="#111">90</text>
<text transform="translate(293.20 208.91) scale(0.97 1.2)" font-family='"Liberation Serif", serif' font-size="13.5" text-anchor="end" fill="#111">120</text>
<text transform="translate(313.70 358.10) scale(1.0 1.12)" font-family='"Liberation Serif", serif' font-size="14" text-anchor="middle" fill="#111">20</text>
<text transform="translate(355.77 358.10) scale(1.0 1.12)" font-family='"Liberation Serif", serif' font-size="14" text-anchor="middle" fill="#111">40</text>
<text transform="translate(397.85 358.10) scale(1.0 1.12)" font-family='"Liberation Serif", serif' font-size="14" text-anchor="middle" fill="#111">60</text>
<text transform="translate(439.92 358.10) scale(1.0 1.12)" font-family='"Liberation Serif", serif' font-size="14" text-anchor="middle" fill="#111">80</text>
<text transform="translate(482.00 358.10) scale(1.0 1.12)" font-family='"Liberation Serif", serif' font-size="14" text-anchor="middle" fill="#111">100</text>
<text transform="translate(266.30 352.80) rotate(-90) scale(1 1.2)" x="0" y="0" font-family='"Liberation Serif", serif' font-size="16" font-weight="bold" fill="#111" stroke="#111" stroke-width="0.4" textLength="155" lengthAdjust="spacingAndGlyphs">Fluorescence intensity</text>
<text transform="translate(357.50 374.60) scale(1.0 1.2)" font-family='"Liberation Serif", serif' font-size="16" font-weight="bold" text-anchor="start" fill="#111" stroke="#111" stroke-width="0.45" textLength="76.0" lengthAdjust="spacingAndGlyphs" >Time (min)</text>
<text transform="translate(307.30 208.20) scale(1.0 1.0)" font-family='"Liberation Serif", serif' font-size="21" font-weight="bold" text-anchor="start" fill="#111" stroke="#111" stroke-width="0.45" >e</text>
<text transform="translate(348.50 213.00) scale(1.0 1.0)" font-family='"Liberation Sans", sans-serif' font-size="14" font-weight="bold" text-anchor="start" fill="#111" stroke="#111" stroke-width="0.35" textLength="93.0" lengthAdjust="spacingAndGlyphs" >pUC57-Bc18S</text>
<path d="M297.20 331.00 L298.37 331.00 L299.55 331.00 L300.72 331.00 L301.90 331.00 L303.07 331.00 L304.25 331.00 L305.42 331.00 L306.60 331.00 L307.77 331.00 L308.95 331.00 L310.12 331.00 L311.30 331.00 L312.47 331.00 L313.65 331.00 L314.82 331.00 L316.00 331.00 L317.17 331.00 L318.35 331.00 L319.52 331.00 L320.70 331.00 L321.87 331.00 L323.05 330.99 L324.22 330.99 L325.40 330.98 L326.57 330.97 L327.75 330.95 L328.92 330.93 L330.10 330.90 L331.27 330.87 L332.45 330.81 L333.62 330.74 L334.79 330.66 L335.97 330.55 L337.14 330.41 L338.32 330.24 L339.49 330.03 L340.67 329.79 L341.84 329.49 L343.02 329.15 L344.19 328.75 L345.37 328.29 L346.54 327.77 L347.72 327.18 L348.89 326.52 L350.07 325.79 L351.24 324.99 L352.42 324.11 L353.59 323.16 L354.77 322.13 L355.94 321.03 L357.12 319.86 L358.29 318.62 L359.47 317.32 L360.64 315.95 L361.82 314.52 L362.99 313.04 L364.17 311.51 L365.34 309.94 L366.52 308.32 L367.69 306.67 L368.87 304.99 L370.04 303.29 L371.22 301.57 L372.39 299.83 L373.56 298.08 L374.74 296.33 L375.91 294.57 L377.09 292.82 L378.26 291.08 L379.44 289.35 L380.61 287.63 L381.79 285.93 L382.96 284.25 L384.14 282.60 L385.31 280.97 L386.49 279.36 L387.66 277.79 L388.84 276.25 L390.01 274.73 L391.19 273.25 L392.36 271.81 L393.54 270.40 L394.71 269.03 L395.89 267.69 L397.06 266.38 L398.24 265.11 L399.41 263.88 L400.59 262.68 L401.76 261.52 L402.94 260.40 L404.11 259.30 L405.29 258.24 L406.46 257.22 L407.64 256.22 L408.81 255.26 L409.98 254.33 L411.16 253.43 L412.33 252.56 L413.51 251.72 L414.68 250.90 L415.86 250.12 L417.03 249.35 L418.21 248.62 L419.38 247.91 L420.56 247.22 L421.73 246.55 L422.91 245.91 L424.08 245.29 L425.26 244.69 L426.43 244.10 L427.61 243.54 L428.78 243.00 L429.96 242.47 L431.13 241.96 L432.31 241.46 L433.48 240.98 L434.66 240.52 L435.83 240.07 L437.01 239.63 L438.18 239.21 L439.36 238.80 L440.53 238.40 L441.71 238.01 L442.88 237.63 L444.06 237.27 L445.23 236.91 L446.41 236.56 L447.58 236.22 L448.75 235.89 L449.93 235.57 L451.10 235.26 L452.28 234.95 L453.45 234.66 L454.63 234.36 L455.80 234.08 L456.98 233.80 L458.15 233.53 L459.33 233.26 L460.50 233.00 L461.68 232.74 L462.85 232.49 L464.03 232.24 L465.20 232.00 L466.38 231.76 L467.55 231.53 L468.73 231.30 L469.90 231.07 L471.08 230.85 L472.25 230.63 L473.43 230.41 L474.60 230.20 L475.78 229.99 L476.95 229.78 L478.13 229.58 L479.30 229.37 L480.48 229.17 L481.65 228.97 L482.83 228.78 L484.00 228.58" fill="none" stroke="#000000" stroke-width="1.3" stroke-linejoin="round"/>
<path d="M297.20 331.00 L298.37 331.00 L299.55 331.00 L300.72 331.00 L301.90 331.00 L303.07 331.00 L304.25 331.00 L305.42 331.00 L306.60 331.00 L307.77 331.00 L308.95 331.00 L310.12 331.00 L311.30 331.00 L312.47 331.00 L313.65 331.00 L314.82 331.00 L316.00 331.00 L317.17 331.00 L318.35 331.00 L319.52 331.00 L320.70 331.00 L321.87 331.00 L323.05 331.00 L324.22 331.00 L325.40 331.00 L326.57 331.00 L327.75 331.00 L328.92 331.00 L330.10 331.00 L331.27 331.00 L332.45 331.00 L333.62 331.00 L334.79 331.00 L335.97 331.00 L337.14 331.00 L338.32 330.99 L339.49 330.99 L340.67 330.98 L341.84 330.97 L343.02 330.95 L344.19 330.93 L345.37 330.90 L346.54 330.86 L347.72 330.81 L348.89 330.74 L350.07 330.65 L351.24 330.53 L352.42 330.39 L353.59 330.21 L354.77 330.00 L355.94 329.74 L357.12 329.44 L358.29 329.08 L359.47 328.66 L360.64 328.18 L361.82 327.64 L362.99 327.02 L364.17 326.33 L365.34 325.57 L366.52 324.73 L367.69 323.82 L368.87 322.83 L370.04 321.76 L371.22 320.61 L372.39 319.40 L373.56 318.11 L374.74 316.76 L375.91 315.34 L377.09 313.87 L378.26 312.34 L379.44 310.76 L380.61 309.14 L381.79 307.48 L382.96 305.79 L384.14 304.06 L385.31 302.32 L386.49 300.56 L387.66 298.79 L388.84 297.01 L390.01 295.22 L391.19 293.44 L392.36 291.67 L393.54 289.91 L394.71 288.16 L395.89 286.43 L397.06 284.72 L398.24 283.03 L399.41 281.37 L400.59 279.74 L401.76 278.14 L402.94 276.57 L404.11 275.03 L405.29 273.53 L406.46 272.06 L407.64 270.63 L408.81 269.24 L409.98 267.89 L411.16 266.57 L412.33 265.29 L413.51 264.05 L414.68 262.84 L415.86 261.67 L417.03 260.54 L418.21 259.45 L419.38 258.39 L420.56 257.36 L421.73 256.37 L422.91 255.41 L424.08 254.49 L425.26 253.59 L426.43 252.73 L427.61 251.90 L428.78 251.09 L429.96 250.32 L431.13 249.57 L432.31 248.85 L433.48 248.15 L434.66 247.48 L435.83 246.83 L437.01 246.21 L438.18 245.61 L439.36 245.03 L440.53 244.47 L441.71 243.93 L442.88 243.40 L444.06 242.90 L445.23 242.41 L446.41 241.94 L447.58 241.49 L448.75 241.05 L449.93 240.63 L451.10 240.22 L452.28 239.82 L453.45 239.44 L454.63 239.07 L455.80 238.71 L456.98 238.36 L458.15 238.02 L459.33 237.69 L460.50 237.37 L461.68 237.06 L462.85 236.76 L464.03 236.47 L465.20 236.19 L466.38 235.91 L467.55 235.65 L468.73 235.38 L469.90 235.13 L471.08 234.88 L472.25 234.64 L473.43 234.40 L474.60 234.17 L475.78 233.95 L476.95 233.73 L478.13 233.51 L479.30 233.30 L480.48 233.09 L481.65 232.89 L482.83 232.69 L484.00 232.49" fill="none" stroke="#e8141c" stroke-width="1.3" stroke-linejoin="round"/>
<path d="M297.20 331.00 L298.37 331.00 L299.55 331.00 L300.72 331.00 L301.90 331.00 L303.07 331.00 L304.25 331.00 L305.42 331.00 L306.60 331.00 L307.77 331.00 L308.95 331.00 L310.12 331.00 L311.30 331.00 L312.47 331.00 L313.65 331.00 L314.82 331.00 L316.00 331.00 L317.17 331.00 L318.35 331.00 L319.52 331.00 L320.70 331.00 L321.87 331.00 L323.05 331.00 L324.22 331.00 L325.40 331.00 L326.57 331.00 L327.75 331.00 L328.92 331.00 L330.10 331.00 L331.27 331.00 L332.45 331.00 L333.62 331.00 L334.79 331.00 L335.97 331.00 L337.14 331.00 L338.32 331.00 L339.49 331.00 L340.67 331.00 L341.84 331.00 L343.02 331.00 L344.19 331.00 L345.37 331.00 L346.54 331.00 L347.72 331.00 L348.89 331.00 L350.07 331.00 L351.24 331.00 L352.42 330.99 L353.59 330.99 L354.77 330.99 L355.94 330.98 L357.12 330.97 L358.29 330.95 L359.47 330.93 L360.64 330.90 L361.82 330.86 L362.99 330.80 L364.17 330.73 L365.34 330.64 L366.52 330.53 L367.69 330.38 L368.87 330.21 L370.04 329.99 L371.22 329.74 L372.39 329.43 L373.56 329.08 L374.74 328.66 L375.91 328.19 L377.09 327.65 L378.26 327.05 L379.44 326.37 L380.61 325.62 L381.79 324.80 L382.96 323.90 L384.14 322.92 L385.31 321.87 L386.49 320.75 L387.66 319.55 L388.84 318.29 L390.01 316.96 L391.19 315.57 L392.36 314.12 L393.54 312.62 L394.71 311.07 L395.89 309.47 L397.06 307.84 L398.24 306.17 L399.41 304.48 L400.59 302.76 L401.76 301.03 L402.94 299.28 L404.11 297.53 L405.29 295.77 L406.46 294.01 L407.64 292.26 L408.81 290.52 L409.98 288.80 L411.16 287.09 L412.33 285.39 L413.51 283.73 L414.68 282.08 L415.86 280.47 L417.03 278.88 L418.21 277.32 L419.38 275.80 L420.56 274.31 L421.73 272.86 L422.91 271.44 L424.08 270.05 L425.26 268.71 L426.43 267.40 L427.61 266.12 L428.78 264.89 L429.96 263.69 L431.13 262.53 L432.31 261.40 L433.48 260.31 L434.66 259.25 L435.83 258.23 L437.01 257.24 L438.18 256.29 L439.36 255.36 L440.53 254.47 L441.71 253.61 L442.88 252.78 L444.06 251.98 L445.23 251.21 L446.41 250.46 L447.58 249.74 L448.75 249.05 L449.93 248.38 L451.10 247.73 L452.28 247.11 L453.45 246.51 L454.63 245.93 L455.80 245.37 L456.98 244.83 L458.15 244.31 L459.33 243.81 L460.50 243.32 L461.68 242.86 L462.85 242.41 L464.03 241.97 L465.20 241.55 L466.38 241.14 L467.55 240.75 L468.73 240.37 L469.90 240.00 L471.08 239.64 L472.25 239.29 L473.43 238.96 L474.60 238.64 L475.78 238.32 L476.95 238.02 L478.13 237.72 L479.30 237.43 L480.48 237.15 L481.65 236.88 L482.83 236.62 L484.00 236.36" fill="none" stroke="#1a1ae6" stroke-width="1.3" stroke-linejoin="round"/>
<path d="M297.20 331.00 L298.37 331.00 L299.55 331.00 L300.72 331.00 L301.90 331.00 L303.07 331.00 L304.25 331.00 L305.42 331.00 L306.60 331.00 L307.77 331.00 L308.95 331.00 L310.12 331.00 L311.30 331.00 L312.47 331.00 L313.65 331.00 L314.82 331.00 L316.00 331.00 L317.17 331.00 L318.35 331.00 L319.52 331.00 L320.70 331.00 L321.87 331.00 L323.05 331.00 L324.22 331.00 L325.40 331.00 L326.57 331.00 L327.75 331.00 L328.92 331.00 L330.10 331.00 L331.27 331.00 L332.45 331.00 L333.62 331.00 L334.79 331.00 L335.97 331.00 L337.14 331.00 L338.32 331.00 L339.49 331.00 L340.67 331.00 L341.84 331.00 L343.02 331.00 L344.19 331.00 L345.37 331.00 L346.54 331.00 L347.72 331.00 L348.89 331.00 L350.07 331.00 L351.24 331.00 L352.42 331.00 L353.59 331.00 L354.77 331.00 L355.94 331.00 L357.12 331.00 L358.29 331.00 L359.47 331.00 L360.64 331.00 L361.82 331.00 L362.99 331.00 L364.17 331.00 L365.34 331.00 L366.52 330.99 L367.69 330.99 L368.87 330.98 L370.04 330.97 L371.22 330.96 L372.39 330.95 L373.56 330.92 L374.74 330.90 L375.91 330.86 L377.09 330.81 L378.26 330.74 L379.44 330.66 L380.61 330.56 L381.79 330.44 L382.96 330.28 L384.14 330.10 L385.31 329.89 L386.49 329.63 L387.66 329.33 L388.84 328.99 L390.01 328.59 L391.19 328.14 L392.36 327.63 L393.54 327.06 L394.71 326.43 L395.89 325.73 L397.06 324.97 L398.24 324.14 L399.41 323.23 L400.59 322.26 L401.76 321.23 L402.94 320.12 L404.11 318.95 L405.29 317.71 L406.46 316.42 L407.64 315.07 L408.81 313.66 L409.98 312.20 L411.16 310.70 L412.33 309.15 L413.51 307.57 L414.68 305.95 L415.86 304.30 L417.03 302.63 L418.21 300.94 L419.38 299.24 L420.56 297.53 L421.73 295.81 L422.91 294.09 L424.08 292.37 L425.26 290.66 L426.43 288.96 L427.61 287.27 L428.78 285.60 L429.96 283.96 L431.13 282.33 L432.31 280.73 L433.48 279.16 L434.66 277.62 L435.83 276.11 L437.01 274.64 L438.18 273.20 L439.36 271.80 L440.53 270.43 L441.71 269.10 L442.88 267.81 L444.06 266.56 L445.23 265.36 L446.41 264.19 L447.58 263.06 L448.75 261.97 L449.93 260.92 L451.10 259.91 L452.28 258.94 L453.45 258.00 L454.63 257.11 L455.80 256.25 L456.98 255.43 L458.15 254.65 L459.33 253.90 L460.50 253.19 L461.68 252.51 L462.85 251.86 L464.03 251.25 L465.20 250.67 L466.38 250.12 L467.55 249.59 L468.73 249.10 L469.90 248.63 L471.08 248.19 L472.25 247.78 L473.43 247.39 L474.60 247.03 L475.78 246.69 L476.95 246.38 L478.13 246.08 L479.30 245.81 L480.48 245.55 L481.65 245.32 L482.83 245.11 L484.00 244.91" fill="none" stroke="#f01ef0" stroke-width="1.3" stroke-linejoin="round"/>
<path d="M297.20 331.00 L298.37 331.00 L299.55 331.00 L300.72 331.00 L301.90 331.00 L303.07 331.00 L304.25 331.00 L305.42 331.00 L306.60 331.00 L307.77 331.00 L308.95 331.00 L310.12 331.00 L311.30 331.00 L312.47 331.00 L313.65 331.00 L314.82 331.00 L316.00 331.00 L317.17 331.00 L318.35 331.00 L319.52 331.00 L320.70 331.00 L321.87 331.00 L323.05 331.00 L324.22 331.00 L325.40 331.00 L326.57 331.00 L327.75 331.00 L328.92 331.00 L330.10 331.00 L331.27 331.00 L332.45 331.00 L333.62 331.00 L334.79 331.00 L335.97 331.00 L337.14 331.00 L338.32 331.00 L339.49 331.00 L340.67 331.00 L341.84 331.00 L343.02 331.00 L344.19 331.00 L345.37 331.00 L346.54 331.00 L347.72 331.00 L348.89 331.00 L350.07 331.00 L351.24 331.00 L352.42 331.00 L353.59 331.00 L354.77 331.00 L355.94 331.00 L357.12 331.00 L358.29 331.00 L359.47 331.00 L360.64 331.00 L361.82 331.00 L362.99 331.00 L364.17 331.00 L365.34 331.00 L366.52 331.00 L367.69 331.00 L368.87 331.00 L370.04 331.00 L371.22 331.00 L372.39 331.00 L373.56 331.00 L374.74 331.00 L375.91 331.00 L377.09 331.00 L378.26 331.00 L379.44 331.00 L380.61 330.99 L381.79 330.99 L382.96 330.99 L384.14 330.98 L385.31 330.97 L386.49 330.96 L387.66 330.94 L388.84 330.92 L390.01 330.88 L391.19 330.84 L392.36 330.79 L393.54 330.72 L394.71 330.63 L395.89 330.52 L397.06 330.39 L398.24 330.23 L399.41 330.03 L400.59 329.80 L401.76 329.53 L402.94 329.22 L404.11 328.86 L405.29 328.44 L406.46 327.97 L407.64 327.44 L408.81 326.85 L409.98 326.20 L411.16 325.48 L412.33 324.69 L413.51 323.83 L414.68 322.91 L415.86 321.92 L417.03 320.86 L418.21 319.74 L419.38 318.55 L420.56 317.30 L421.73 315.99 L422.91 314.63 L424.08 313.21 L425.26 311.75 L426.43 310.24 L427.61 308.69 L428.78 307.11 L429.96 305.49 L431.13 303.85 L432.31 302.19 L433.48 300.51 L434.66 298.82 L435.83 297.12 L437.01 295.41 L438.18 293.71 L439.36 292.01 L440.53 290.32 L441.71 288.64 L442.88 286.97 L444.06 285.32 L445.23 283.69 L446.41 282.08 L447.58 280.50 L448.75 278.95 L449.93 277.43 L451.10 275.93 L452.28 274.47 L453.45 273.05 L454.63 271.65 L455.80 270.30 L456.98 268.98 L458.15 267.69 L459.33 266.45 L460.50 265.24 L461.68 264.07 L462.85 262.94 L464.03 261.84 L465.20 260.78 L466.38 259.76 L467.55 258.78 L468.73 257.83 L469.90 256.91 L471.08 256.03 L472.25 255.19 L473.43 254.38 L474.60 253.60 L475.78 252.86 L476.95 252.14 L478.13 251.46 L479.30 250.81 L480.48 250.18 L481.65 249.59 L482.83 249.02 L484.00 248.47" fill="none" stroke="#1f8a1f" stroke-width="1.3" stroke-linejoin="round"/>
<path d="M297.20 331.00 L298.37 331.00 L299.55 331.00 L300.72 331.00 L301.90 331.00 L303.07 331.00 L304.25 331.00 L305.42 331.00 L306.60 331.00 L307.77 331.00 L308.95 331.00 L310.12 331.00 L311.30 331.00 L312.47 331.00 L313.65 331.00 L314.82 331.00 L316.00 331.00 L317.17 331.00 L318.35 331.00 L319.52 331.00 L320.70 331.00 L321.87 331.00 L323.05 331.00 L324.22 331.00 L325.40 331.00 L326.57 331.00 L327.75 331.00 L328.92 331.00 L330.10 331.00 L331.27 331.00 L332.45 331.00 L333.62 331.00 L334.79 331.00 L335.97 331.00 L337.14 331.00 L338.32 331.00 L339.49 331.00 L340.67 331.00 L341.84 331.00 L343.02 331.00 L344.19 331.00 L345.37 331.00 L346.54 331.00 L347.72 331.00 L348.89 331.00 L350.07 331.00 L351.24 331.00 L352.42 331.00 L353.59 331.00 L354.77 331.00 L355.94 331.00 L357.12 331.00 L358.29 331.00 L359.47 331.00 L360.64 331.00 L361.82 331.00 L362.99 331.00 L364.17 331.00 L365.34 331.00 L366.52 331.00 L367.69 331.00 L368.87 331.00 L370.04 331.00 L371.22 331.00 L372.39 331.00 L373.56 331.00 L374.74 331.00 L375.91 331.00 L377.09 331.00 L378.26 331.00 L379.44 331.00 L380.61 331.00 L381.79 331.00 L382.96 331.00 L384.14 331.00 L385.31 331.00 L386.49 331.00 L387.66 331.00 L388.84 331.00 L390.01 331.00 L391.19 331.00 L392.36 331.00 L393.54 330.99 L394.71 330.99 L395.89 330.99 L397.06 330.98 L398.24 330.97 L399.41 330.96 L400.59 330.95 L401.76 330.93 L402.94 330.90 L404.11 330.87 L405.29 330.84 L406.46 330.79 L407.64 330.73 L408.81 330.66 L409.98 330.57 L411.16 330.47 L412.33 330.34 L413.51 330.19 L414.68 330.02 L415.86 329.81 L417.03 329.57 L418.21 329.30 L419.38 328.99 L420.56 328.64 L421.73 328.24 L422.91 327.79 L424.08 327.29 L425.26 326.74 L426.43 326.13 L427.61 325.46 L428.78 324.73 L429.96 323.94 L431.13 323.08 L432.31 322.16 L433.48 321.17 L434.66 320.12 L435.83 319.01 L437.01 317.83 L438.18 316.59 L439.36 315.29 L440.53 313.93 L441.71 312.52 L442.88 311.05 L444.06 309.53 L445.23 307.97 L446.41 306.37 L447.58 304.73 L448.75 303.05 L449.93 301.35 L451.10 299.62 L452.28 297.87 L453.45 296.11 L454.63 294.34 L455.80 292.57 L456.98 290.79 L458.15 289.02 L459.33 287.27 L460.50 285.52 L461.68 283.80 L462.85 282.10 L464.03 280.43 L465.20 278.79 L466.38 277.18 L467.55 275.62 L468.73 274.10 L469.90 272.63 L471.08 271.20 L472.25 269.83 L473.43 268.51 L474.60 267.25 L475.78 266.05 L476.95 264.91 L478.13 263.83 L479.30 262.82 L480.48 261.87 L481.65 260.99 L482.83 260.17 L484.00 259.43" fill="none" stroke="#141470" stroke-width="1.3" stroke-linejoin="round"/>
<path d="M297.20 331.00 L298.37 331.00 L299.55 331.00 L300.72 331.00 L301.90 331.00 L303.07 331.00 L304.25 331.00 L305.42 331.00 L306.60 331.00 L307.77 331.00 L308.95 331.00 L310.12 331.00 L311.30 331.00 L312.47 331.00 L313.65 331.00 L314.82 331.00 L316.00 331.00 L317.17 331.00 L318.35 331.00 L319.52 331.00 L320.70 331.00 L321.87 331.00 L323.05 331.00 L324.22 331.00 L325.40 331.00 L326.57 331.00 L327.75 331.00 L328.92 331.00 L330.10 331.00 L331.27 331.00 L332.45 331.00 L333.62 331.00 L334.79 331.00 L335.97 331.00 L337.14 331.00 L338.32 331.00 L339.49 331.00 L340.67 331.00 L341.84 331.00 L343.02 331.00 L344.19 331.00 L345.37 331.00 L346.54 331.00 L347.72 331.00 L348.89 331.00 L350.07 331.00 L351.24 331.00 L352.42 331.00 L353.59 331.00 L354.77 331.00 L355.94 331.00 L357.12 331.00 L358.29 331.00 L359.47 331.00 L360.64 331.00 L361.82 331.00 L362.99 331.00 L364.17 331.00 L365.34 331.00 L366.52 331.00 L367.69 331.00 L368.87 331.00 L370.04 331.00 L371.22 331.00 L372.39 331.00 L373.56 331.00 L374.74 331.00 L375.91 331.00 L377.09 331.00 L378.26 331.00 L379.44 331.00 L380.61 331.00 L381.79 331.00 L382.96 331.00 L384.14 331.00 L385.31 331.00 L386.49 331.00 L387.66 331.00 L388.84 331.00 L390.01 331.00 L391.19 331.00 L392.36 331.00 L393.54 331.00 L394.71 331.00 L395.89 331.00 L397.06 331.00 L398.24 331.00 L399.41 331.00 L400.59 331.00 L401.76 331.00 L402.94 331.00 L404.11 331.00 L405.29 331.00 L406.46 330.99 L407.64 330.99 L408.81 330.99 L409.98 330.98 L411.16 330.97 L412.33 330.96 L413.51 330.94 L414.68 330.92 L415.86 330.89 L417.03 330.86 L418.21 330.81 L419.38 330.75 L420.56 330.67 L421.73 330.57 L422.91 330.46 L424.08 330.31 L425.26 330.14 L426.43 329.94 L427.61 329.71 L428.78 329.43 L429.96 329.11 L431.13 328.75 L432.31 328.34 L433.48 327.87 L434.66 327.35 L435.83 326.77 L437.01 326.13 L438.18 325.43 L439.36 324.67 L440.53 323.84 L441.71 322.95 L442.88 321.99 L444.06 320.97 L445.23 319.89 L446.41 318.75 L447.58 317.55 L448.75 316.29 L449.93 314.97 L451.10 313.61 L452.28 312.19 L453.45 310.74 L454.63 309.24 L455.80 307.70 L456.98 306.13 L458.15 304.53 L459.33 302.90 L460.50 301.26 L461.68 299.59 L462.85 297.91 L464.03 296.23 L465.20 294.53 L466.38 292.84 L467.55 291.14 L468.73 289.45 L469.90 287.77 L471.08 286.10 L472.25 284.44 L473.43 282.80 L474.60 281.17 L475.78 279.57 L476.95 277.99 L478.13 276.43 L479.30 274.90 L480.48 273.40 L481.65 271.92 L482.83 270.48 L484.00 269.06" fill="none" stroke="#8a2be2" stroke-width="1.3" stroke-linejoin="round"/>
<path d="M297.20 331.40 L298.77 331.39 L300.35 331.38 L301.92 331.36 L303.50 331.35 L305.07 331.34 L306.65 331.33 L308.22 331.32 L309.80 331.31 L311.37 331.30 L312.95 331.29 L314.52 331.28 L316.10 331.27 L317.67 331.26 L319.25 331.25 L320.82 331.24 L322.40 331.23 L323.97 331.22 L325.55 331.21 L327.12 331.20 L328.70 331.19 L330.27 331.18 L331.85 331.17 L333.42 331.16 L334.99 331.15 L336.57 331.14 L338.14 331.13 L339.72 331.12 L341.29 331.11 L342.87 331.10 L344.44 331.09 L346.02 331.08 L347.59 331.07 L349.17 331.05 L350.74 331.04 L352.32 331.03 L353.89 331.02 L355.47 331.01 L357.04 331.00 L358.62 330.99 L360.19 330.98 L361.77 330.97 L363.34 330.95 L364.92 330.94 L366.49 330.93 L368.07 330.92 L369.64 330.90 L371.22 330.89 L372.79 330.88 L374.36 330.87 L375.94 330.85 L377.51 330.84 L379.09 330.82 L380.66 330.81 L382.24 330.79 L383.81 330.78 L385.39 330.76 L386.96 330.75 L388.54 330.73 L390.11 330.71 L391.69 330.70 L393.26 330.68 L394.84 330.66 L396.41 330.64 L397.99 330.62 L399.56 330.61 L401.14 330.59 L402.71 330.56 L404.29 330.54 L405.86 330.52 L407.44 330.49 L409.01 330.46 L410.58 330.43 L412.16 330.40 L413.73 330.37 L415.31 330.34 L416.88 330.30 L418.46 330.27 L420.03 330.23 L421.61 330.19 L423.18 330.15 L424.76 330.11 L426.33 330.07 L427.91 330.03 L429.48 329.98 L431.06 329.94 L432.63 329.90 L434.21 329.85 L435.78 329.80 L437.36 329.76 L438.93 329.71 L440.51 329.66 L442.08 329.61 L443.66 329.57 L445.23 329.52 L446.81 329.47 L448.38 329.42 L449.95 329.37 L451.53 329.32 L453.10 329.27 L454.68 329.22 L456.25 329.16 L457.83 329.11 L459.40 329.06 L460.98 329.01 L462.55 328.96 L464.13 328.91 L465.70 328.86 L467.28 328.81 L468.85 328.76 L470.43 328.71 L472.00 328.67 L473.58 328.62 L475.15 328.57 L476.73 328.52 L478.30 328.48 L479.88 328.43 L481.45 328.39 L483.03 328.34 L484.60 328.30" fill="none" stroke="#6d1f7d" stroke-width="1.3" stroke-linejoin="round"/>
<text transform="translate(486.80 221.00) scale(1.0 1.08)" font-family='"Liberation Serif", serif' font-size="16.5" font-weight="normal" text-anchor="start" fill="#111" >a</text>
<text transform="translate(486.80 234.80) scale(1.0 1.08)" font-family='"Liberation Serif", serif' font-size="16.5" font-weight="normal" text-anchor="start" fill="#111" >b</text>
<text transform="translate(486.80 244.80) scale(1.0 1.08)" font-family='"Liberation Serif", serif' font-size="16.5" font-weight="normal" text-anchor="start" fill="#111" >c</text>
<text transform="translate(486.80 255.50) scale(1.0 1.08)" font-family='"Liberation Serif", serif' font-size="16.5" font-weight="normal" text-anchor="start" fill="#111" >d</text>
<text transform="translate(486.80 265.00) scale(1.0 1.08)" font-family='"Liberation Serif", serif' font-size="16.5" font-weight="normal" text-anchor="start" fill="#111" >e</text>
<text transform="translate(486.80 277.00) scale(1.0 1.08)" font-family='"Liberation Serif", serif' font-size="16.5" font-weight="normal" text-anchor="start" fill="#111" >f</text>
<text transform="translate(486.80 283.00) scale(1.0 1.08)" font-family='"Liberation Serif", serif' font-size="16.5" font-weight="normal" text-anchor="start" fill="#111" >g</text>
<text transform="translate(488.50 333.60) scale(1.0 1.08)" font-family='"Liberation Serif", serif' font-size="16.5" font-weight="normal" text-anchor="start" fill="#111" >h</text>
<line x1="555.50" y1="205.80" x2="555.50" y2="345.00" stroke="#111" stroke-width="1.6"/>
<line x1="554.70" y1="344.20" x2="746.70" y2="344.20" stroke="#111" stroke-width="1.6"/>
<line x1="552.00" y1="332.00" x2="555.50" y2="332.00" stroke="#111" stroke-width="1.3"/>
<line x1="552.00" y1="306.76" x2="555.50" y2="306.76" stroke="#111" stroke-width="1.3"/>
<line x1="552.00" y1="281.52" x2="555.50" y2="281.52" stroke="#111" stroke-width="1.3"/>
<line x1="552.00" y1="256.28" x2="555.50" y2="256.28" stroke="#111" stroke-width="1.3"/>
<line x1="552.00" y1="231.04" x2="555.50" y2="231.04" stroke="#111" stroke-width="1.3"/>
<line x1="552.00" y1="205.80" x2="555.50" y2="205.80" stroke="#111" stroke-width="1.3"/>
<line x1="553.50" y1="319.38" x2="555.50" y2="319.38" stroke="#111" stroke-width="1.3"/>
<line x1="553.50" y1="294.14" x2="555.50" y2="294.14" stroke="#111" stroke-width="1.3"/>
<line x1="553.50" y1="268.90" x2="555.50" y2="268.90" stroke="#111" stroke-width="1.3"/>
<line x1="553.50" y1="243.66" x2="555.50" y2="243.66" stroke="#111" stroke-width="1.3"/>
<line x1="553.50" y1="218.42" x2="555.50" y2="218.42" stroke="#111" stroke-width="1.3"/>
<line x1="573.00" y1="344.20" x2="573.00" y2="347.70" stroke="#111" stroke-width="1.3"/>
<line x1="616.42" y1="344.20" x2="616.42" y2="347.70" stroke="#111" stroke-width="1.3"/>
<line x1="659.85" y1="344.20" x2="659.85" y2="347.70" stroke="#111" stroke-width="1.3"/>
<line x1="703.28" y1="344.20" x2="703.28" y2="347.70" stroke="#111" stroke-width="1.3"/>
<line x1="746.70" y1="344.20" x2="746.70" y2="347.70" stroke="#111" stroke-width="1.3"/>
<line x1="594.71" y1="344.20" x2="594.71" y2="346.20" stroke="#111" stroke-width="1.3"/>
<line x1="638.14" y1="344.20" x2="638.14" y2="346.20" stroke="#111" stroke-width="1.3"/>
<line x1="681.56" y1="344.20" x2="681.56" y2="346.20" stroke="#111" stroke-width="1.3"/>
<line x1="724.99" y1="344.20" x2="724.99" y2="346.20" stroke="#111" stroke-width="1.3"/>
<text transform="translate(551.50 337.71) scale(0.97 1.2)" font-family='"Liberation Serif", serif' font-size="14" text-anchor="end" fill="#111">0</text>
<text transform="translate(551.50 312.47) scale(0.97 1.2)" font-family='"Liberation Serif", serif' font-size="14" text-anchor="end" fill="#111">10</text>
<text transform="translate(551.50 287.23) scale(0.97 1.2)" font-family='"Liberation Serif", serif' font-size="14" text-anchor="end" fill="#111">20</text>
<text transform="translate(551.50 261.99) scale(0.97 1.2)" font-family='"Liberation Serif", serif' font-size="14" text-anchor="end" fill="#111">30</text>
<text transform="translate(551.50 236.75) scale(0.97 1.2)" font-family='"Liberation Serif", serif' font-size="14" text-anchor="end" fill="#111">40</text>
<text transform="translate(551.50 211.51) scale(0.97 1.2)" font-family='"Liberation Serif", serif' font-size="14" text-anchor="end" fill="#111">50</text>
<text transform="translate(573.00 360.00) scale(0.98 1.12)" font-family='"Liberation Serif", serif' font-size="14" text-anchor="middle" fill="#111">20</text>
<text transform="translate(616.42 360.00) scale(0.98 1.12)" font-family='"Liberation Serif", serif' font-size="14" text-anchor="middle" fill="#111">40</text>
<text transform="translate(659.85 360.00) scale(0.98 1.12)" font-family='"Liberation Serif", serif' font-size="14" text-anchor="middle" fill="#111">60</text>
<text transform="translate(703.28 360.00) scale(0.98 1.12)" font-family='"Liberation Serif", serif' font-size="14" text-anchor="middle" fill="#111">80</text>
<text transform="translate(746.70 360.00) scale(0.98 1.12)" font-family='"Liberation Serif", serif' font-size="14" text-anchor="middle" fill="#111">100</text>
<text transform="translate(532.30 339.00) rotate(-90) scale(1 1.12)" x="0" y="0" font-family='"Liberation Serif", serif' font-size="13.3" font-weight="bold" fill="#111" stroke="#111" stroke-width="0.4" textLength="125.6" lengthAdjust="spacingAndGlyphs">Fluorescence intensity</text>
<text transform="translate(618.00 372.60) scale(1.0 1.15)" font-family='"Liberation Serif", serif' font-size="13" font-weight="bold" text-anchor="start" fill="#111" stroke="#111" stroke-width="0.45" textLength="60.8" lengthAdjust="spacingAndGlyphs" >Time (min)</text>
<text transform="translate(565.30 207.80) scale(1.0 1.0)" font-family='"Liberation Serif", serif' font-size="20.5" font-weight="bold" text-anchor="start" fill="#111" stroke="#111" stroke-width="0.45" >f</text>
<text transform="translate(615.90 214.00) scale(1.0 1.0)" font-family='"Liberation Sans", sans-serif' font-size="14" font-weight="bold" text-anchor="start" fill="#111" stroke="#111" stroke-width="0.35" textLength="76.0" lengthAdjust="spacingAndGlyphs" >pUC57-ema</text>
<path d="M555.50 331.80 L556.58 331.78 L557.66 331.77 L558.75 331.75 L559.83 331.74 L560.91 331.72 L561.99 331.70 L563.07 331.69 L564.15 331.67 L565.24 331.65 L566.32 331.64 L567.40 331.62 L568.48 331.61 L569.56 331.59 L570.64 331.57 L571.73 331.56 L572.81 331.54 L573.89 331.52 L574.97 331.51 L576.05 331.49 L577.14 331.48 L578.22 331.46 L579.30 331.44 L580.38 331.43 L581.46 331.41 L582.54 331.39 L583.63 331.38 L584.71 331.36 L585.79 331.35 L586.87 331.33 L587.95 331.31 L589.03 331.30 L590.12 331.28 L591.20 331.26 L592.28 331.25 L593.36 331.23 L594.44 331.22 L595.53 331.20 L596.61 331.18 L597.69 331.17 L598.77 331.15 L599.85 331.13 L600.93 331.12 L602.02 331.10 L603.10 331.09 L604.18 331.07 L605.26 331.05 L606.34 331.04 L607.42 331.02 L608.51 331.00 L609.59 330.98 L610.67 330.96 L611.75 330.93 L612.83 330.90 L613.92 330.87 L615.00 330.82 L616.08 330.77 L617.16 330.71 L618.24 330.62 L619.32 330.52 L620.41 330.40 L621.49 330.24 L622.57 330.05 L623.65 329.83 L624.73 329.55 L625.81 329.23 L626.90 328.85 L627.98 328.40 L629.06 327.89 L630.14 327.30 L631.22 326.64 L632.31 325.89 L633.39 325.05 L634.47 324.13 L635.55 323.12 L636.63 322.01 L637.71 320.81 L638.80 319.52 L639.88 318.14 L640.96 316.67 L642.04 315.12 L643.12 313.49 L644.20 311.78 L645.29 309.99 L646.37 308.15 L647.45 306.24 L648.53 304.28 L649.61 302.27 L650.69 300.22 L651.78 298.13 L652.86 296.02 L653.94 293.88 L655.02 291.73 L656.10 289.57 L657.19 287.41 L658.27 285.25 L659.35 283.10 L660.43 280.96 L661.51 278.84 L662.59 276.74 L663.68 274.66 L664.76 272.62 L665.84 270.61 L666.92 268.63 L668.00 266.69 L669.08 264.80 L670.17 262.94 L671.25 261.13 L672.33 259.36 L673.41 257.64 L674.49 255.97 L675.58 254.34 L676.66 252.76 L677.74 251.23 L678.82 249.75 L679.90 248.31 L680.98 246.92 L682.07 245.58 L683.15 244.29 L684.23 243.04 L685.31 241.84 L686.39 240.68 L687.47 239.56 L688.56 238.49 L689.64 237.45 L690.72 236.46 L691.80 235.50 L692.88 234.59 L693.97 233.71 L695.05 232.86 L696.13 232.05 L697.21 231.28 L698.29 230.53 L699.37 229.82 L700.46 229.14 L701.54 228.48 L702.62 227.86 L703.70 227.26 L704.78 226.68 L705.86 226.13 L706.95 225.61 L708.03 225.10 L709.11 224.62 L710.19 224.16 L711.27 223.72 L712.36 223.30 L713.44 222.90 L714.52 222.51 L715.60 222.15 L716.68 221.79 L717.76 221.46 L718.85 221.14 L719.93 220.83 L721.01 220.53 L722.09 220.25 L723.17 219.98 L724.25 219.73 L725.34 219.48 L726.42 219.25 L727.50 219.02" fill="none" stroke="#000000" stroke-width="1.3" stroke-linejoin="round"/>
<path d="M555.50 331.80 L556.58 331.78 L557.66 331.77 L558.75 331.75 L559.83 331.74 L560.91 331.72 L561.99 331.70 L563.07 331.69 L564.15 331.67 L565.24 331.65 L566.32 331.64 L567.40 331.62 L568.48 331.61 L569.56 331.59 L570.64 331.57 L571.73 331.56 L572.81 331.54 L573.89 331.52 L574.97 331.51 L576.05 331.49 L577.14 331.48 L578.22 331.46 L579.30 331.44 L580.38 331.43 L581.46 331.41 L582.54 331.39 L583.63 331.38 L584.71 331.36 L585.79 331.35 L586.87 331.33 L587.95 331.31 L589.03 331.30 L590.12 331.28 L591.20 331.26 L592.28 331.25 L593.36 331.23 L594.44 331.22 L595.53 331.20 L596.61 331.18 L597.69 331.17 L598.77 331.15 L599.85 331.13 L600.93 331.12 L602.02 331.10 L603.10 331.09 L604.18 331.07 L605.26 331.05 L606.34 331.04 L607.42 331.02 L608.51 331.00 L609.59 330.99 L610.67 330.97 L611.75 330.96 L612.83 330.94 L613.92 330.92 L615.00 330.91 L616.08 330.89 L617.16 330.88 L618.24 330.86 L619.32 330.84 L620.41 330.83 L621.49 330.81 L622.57 330.79 L623.65 330.78 L624.73 330.76 L625.81 330.74 L626.90 330.72 L627.98 330.70 L629.06 330.67 L630.14 330.64 L631.22 330.61 L632.31 330.56 L633.39 330.51 L634.47 330.45 L635.55 330.37 L636.63 330.27 L637.71 330.14 L638.80 329.99 L639.88 329.80 L640.96 329.58 L642.04 329.30 L643.12 328.98 L644.20 328.60 L645.29 328.15 L646.37 327.63 L647.45 327.03 L648.53 326.35 L649.61 325.59 L650.69 324.73 L651.78 323.77 L652.86 322.72 L653.94 321.57 L655.02 320.31 L656.10 318.96 L657.19 317.50 L658.27 315.94 L659.35 314.29 L660.43 312.54 L661.51 310.71 L662.59 308.80 L663.68 306.80 L664.76 304.74 L665.84 302.61 L666.92 300.42 L668.00 298.18 L669.08 295.90 L670.17 293.59 L671.25 291.24 L672.33 288.88 L673.41 286.50 L674.49 284.12 L675.58 281.74 L676.66 279.36 L677.74 277.00 L678.82 274.66 L679.90 272.34 L680.98 270.05 L682.07 267.80 L683.15 265.58 L684.23 263.41 L685.31 261.28 L686.39 259.21 L687.47 257.18 L688.56 255.21 L689.64 253.29 L690.72 251.43 L691.80 249.63 L692.88 247.89 L693.97 246.21 L695.05 244.59 L696.13 243.03 L697.21 241.53 L698.29 240.10 L699.37 238.72 L700.46 237.40 L701.54 236.14 L702.62 234.94 L703.70 233.79 L704.78 232.71 L705.86 231.67 L706.95 230.69 L708.03 229.76 L709.11 228.88 L710.19 228.06 L711.27 227.28 L712.36 226.54 L713.44 225.86 L714.52 225.21 L715.60 224.61 L716.68 224.05 L717.76 223.53 L718.85 223.05 L719.93 222.60 L721.01 222.19 L722.09 221.81 L723.17 221.47 L724.25 221.16 L725.34 220.88 L726.42 220.62 L727.50 220.40" fill="none" stroke="#e8141c" stroke-width="1.3" stroke-linejoin="round"/>
<path d="M555.50 331.80 L556.58 331.78 L557.66 331.77 L558.75 331.75 L559.83 331.74 L560.91 331.72 L561.99 331.70 L563.07 331.69 L564.15 331.67 L565.24 331.65 L566.32 331.64 L567.40 331.62 L568.48 331.61 L569.56 331.59 L570.64 331.57 L571.73 331.56 L572.81 331.54 L573.89 331.52 L574.97 331.51 L576.05 331.49 L577.14 331.48 L578.22 331.46 L579.30 331.44 L580.38 331.43 L581.46 331.41 L582.54 331.39 L583.63 331.38 L584.71 331.36 L585.79 331.35 L586.87 331.33 L587.95 331.31 L589.03 331.30 L590.12 331.28 L591.20 331.26 L592.28 331.25 L593.36 331.23 L594.44 331.22 L595.53 331.20 L596.61 331.18 L597.69 331.17 L598.77 331.15 L599.85 331.13 L600.93 331.12 L602.02 331.10 L603.10 331.09 L604.18 331.07 L605.26 331.05 L606.34 331.04 L607.42 331.02 L608.51 331.00 L609.59 330.99 L610.67 330.97 L611.75 330.96 L612.83 330.94 L613.92 330.92 L615.00 330.91 L616.08 330.89 L617.16 330.88 L618.24 330.86 L619.32 330.84 L620.41 330.83 L621.49 330.81 L622.57 330.79 L623.65 330.78 L624.73 330.76 L625.81 330.75 L626.90 330.73 L627.98 330.71 L629.06 330.70 L630.14 330.68 L631.22 330.66 L632.31 330.65 L633.39 330.63 L634.47 330.61 L635.55 330.60 L636.63 330.58 L637.71 330.56 L638.80 330.54 L639.88 330.51 L640.96 330.48 L642.04 330.45 L643.12 330.40 L644.20 330.34 L645.29 330.27 L646.37 330.18 L647.45 330.07 L648.53 329.92 L649.61 329.74 L650.69 329.52 L651.78 329.25 L652.86 328.91 L653.94 328.51 L655.02 328.04 L656.10 327.48 L657.19 326.83 L658.27 326.09 L659.35 325.24 L660.43 324.28 L661.51 323.21 L662.59 322.02 L663.68 320.70 L664.76 319.27 L665.84 317.72 L666.92 316.05 L668.00 314.26 L669.08 312.36 L670.17 310.35 L671.25 308.25 L672.33 306.05 L673.41 303.77 L674.49 301.41 L675.58 298.99 L676.66 296.50 L677.74 293.97 L678.82 291.41 L679.90 288.81 L680.98 286.20 L682.07 283.57 L683.15 280.95 L684.23 278.34 L685.31 275.74 L686.39 273.17 L687.47 270.63 L688.56 268.13 L689.64 265.68 L690.72 263.27 L691.80 260.92 L692.88 258.63 L693.97 256.40 L695.05 254.24 L696.13 252.15 L697.21 250.13 L698.29 248.18 L699.37 246.31 L700.46 244.52 L701.54 242.80 L702.62 241.16 L703.70 239.59 L704.78 238.10 L705.86 236.68 L706.95 235.34 L708.03 234.07 L709.11 232.88 L710.19 231.75 L711.27 230.70 L712.36 229.71 L713.44 228.79 L714.52 227.93 L715.60 227.13 L716.68 226.40 L717.76 225.72 L718.85 225.10 L719.93 224.53 L721.01 224.02 L722.09 223.56 L723.17 223.14 L724.25 222.77 L725.34 222.45 L726.42 222.17 L727.50 221.93" fill="none" stroke="#1a1ae6" stroke-width="1.3" stroke-linejoin="round"/>
<path d="M555.50 331.80 L556.58 331.78 L557.66 331.77 L558.75 331.75 L559.83 331.74 L560.91 331.72 L561.99 331.70 L563.07 331.69 L564.15 331.67 L565.24 331.65 L566.32 331.64 L567.40 331.62 L568.48 331.61 L569.56 331.59 L570.64 331.57 L571.73 331.56 L572.81 331.54 L573.89 331.52 L574.97 331.51 L576.05 331.49 L577.14 331.48 L578.22 331.46 L579.30 331.44 L580.38 331.43 L581.46 331.41 L582.54 331.39 L583.63 331.38 L584.71 331.36 L585.79 331.35 L586.87 331.33 L587.95 331.31 L589.03 331.30 L590.12 331.28 L591.20 331.26 L592.28 331.25 L593.36 331.23 L594.44 331.22 L595.53 331.20 L596.61 331.18 L597.69 331.17 L598.77 331.15 L599.85 331.13 L600.93 331.12 L602.02 331.10 L603.10 331.09 L604.18 331.07 L605.26 331.05 L606.34 331.04 L607.42 331.02 L608.51 331.00 L609.59 330.99 L610.67 330.97 L611.75 330.96 L612.83 330.94 L613.92 330.92 L615.00 330.91 L616.08 330.89 L617.16 330.88 L618.24 330.86 L619.32 330.84 L620.41 330.83 L621.49 330.81 L622.57 330.79 L623.65 330.78 L624.73 330.76 L625.81 330.75 L626.90 330.73 L627.98 330.71 L629.06 330.70 L630.14 330.68 L631.22 330.66 L632.31 330.65 L633.39 330.63 L634.47 330.62 L635.55 330.60 L636.63 330.58 L637.71 330.57 L638.80 330.55 L639.88 330.53 L640.96 330.52 L642.04 330.50 L643.12 330.48 L644.20 330.47 L645.29 330.45 L646.37 330.43 L647.45 330.41 L648.53 330.39 L649.61 330.37 L650.69 330.35 L651.78 330.32 L652.86 330.29 L653.94 330.25 L655.02 330.21 L656.10 330.15 L657.19 330.09 L658.27 330.01 L659.35 329.91 L660.43 329.79 L661.51 329.65 L662.59 329.47 L663.68 329.27 L664.76 329.02 L665.84 328.73 L666.92 328.39 L668.00 328.00 L669.08 327.54 L670.17 327.02 L671.25 326.43 L672.33 325.77 L673.41 325.02 L674.49 324.20 L675.58 323.28 L676.66 322.28 L677.74 321.18 L678.82 319.99 L679.90 318.71 L680.98 317.33 L682.07 315.86 L683.15 314.30 L684.23 312.66 L685.31 310.93 L686.39 309.12 L687.47 307.23 L688.56 305.28 L689.64 303.26 L690.72 301.19 L691.80 299.06 L692.88 296.90 L693.97 294.69 L695.05 292.46 L696.13 290.21 L697.21 287.95 L698.29 285.68 L699.37 283.41 L700.46 281.15 L701.54 278.91 L702.62 276.69 L703.70 274.50 L704.78 272.35 L705.86 270.24 L706.95 268.18 L708.03 266.17 L709.11 264.22 L710.19 262.33 L711.27 260.50 L712.36 258.75 L713.44 257.06 L714.52 255.46 L715.60 253.93 L716.68 252.48 L717.76 251.11 L718.85 249.82 L719.93 248.62 L721.01 247.50 L722.09 246.47 L723.17 245.52 L724.25 244.66 L725.34 243.88 L726.42 243.18 L727.50 242.57" fill="none" stroke="#f01ef0" stroke-width="1.3" stroke-linejoin="round"/>
<path d="M555.50 331.80 L556.58 331.78 L557.66 331.77 L558.75 331.75 L559.83 331.74 L560.91 331.72 L561.99 331.70 L563.07 331.69 L564.15 331.67 L565.24 331.65 L566.32 331.64 L567.40 331.62 L568.48 331.61 L569.56 331.59 L570.64 331.57 L571.73 331.56 L572.81 331.54 L573.89 331.52 L574.97 331.51 L576.05 331.49 L577.14 331.48 L578.22 331.46 L579.30 331.44 L580.38 331.43 L581.46 331.41 L582.54 331.39 L583.63 331.38 L584.71 331.36 L585.79 331.35 L586.87 331.33 L587.95 331.31 L589.03 331.30 L590.12 331.28 L591.20 331.26 L592.28 331.25 L593.36 331.23 L594.44 331.22 L595.53 331.20 L596.61 331.18 L597.69 331.17 L598.77 331.15 L599.85 331.13 L600.93 331.12 L602.02 331.10 L603.10 331.09 L604.18 331.07 L605.26 331.05 L606.34 331.04 L607.42 331.02 L608.51 331.00 L609.59 330.99 L610.67 330.97 L611.75 330.96 L612.83 330.94 L613.92 330.92 L615.00 330.91 L616.08 330.89 L617.16 330.88 L618.24 330.86 L619.32 330.84 L620.41 330.83 L621.49 330.81 L622.57 330.79 L623.65 330.78 L624.73 330.76 L625.81 330.75 L626.90 330.73 L627.98 330.71 L629.06 330.70 L630.14 330.68 L631.22 330.66 L632.31 330.65 L633.39 330.63 L634.47 330.62 L635.55 330.60 L636.63 330.58 L637.71 330.57 L638.80 330.55 L639.88 330.53 L640.96 330.52 L642.04 330.50 L643.12 330.49 L644.20 330.47 L645.29 330.45 L646.37 330.44 L647.45 330.42 L648.53 330.40 L649.61 330.39 L650.69 330.37 L651.78 330.36 L652.86 330.34 L653.94 330.32 L655.02 330.31 L656.10 330.29 L657.19 330.27 L658.27 330.26 L659.35 330.24 L660.43 330.22 L661.51 330.21 L662.59 330.19 L663.68 330.17 L664.76 330.15 L665.84 330.12 L666.92 330.10 L668.00 330.07 L669.08 330.03 L670.17 329.99 L671.25 329.94 L672.33 329.88 L673.41 329.81 L674.49 329.73 L675.58 329.62 L676.66 329.50 L677.74 329.35 L678.82 329.17 L679.90 328.95 L680.98 328.70 L682.07 328.40 L683.15 328.05 L684.23 327.65 L685.31 327.19 L686.39 326.67 L687.47 326.08 L688.56 325.41 L689.64 324.66 L690.72 323.83 L691.80 322.92 L692.88 321.92 L693.97 320.83 L695.05 319.64 L696.13 318.37 L697.21 317.00 L698.29 315.55 L699.37 314.00 L700.46 312.37 L701.54 310.66 L702.62 308.88 L703.70 307.02 L704.78 305.09 L705.86 303.11 L706.95 301.07 L708.03 298.99 L709.11 296.87 L710.19 294.72 L711.27 292.55 L712.36 290.37 L713.44 288.18 L714.52 286.00 L715.60 283.84 L716.68 281.69 L717.76 279.58 L718.85 277.51 L719.93 275.48 L721.01 273.51 L722.09 271.60 L723.17 269.75 L724.25 267.98 L725.34 266.29 L726.42 264.69 L727.50 263.17" fill="none" stroke="#1f8a1f" stroke-width="1.3" stroke-linejoin="round"/>
<path d="M555.50 331.80 L556.58 331.78 L557.66 331.77 L558.75 331.75 L559.83 331.74 L560.91 331.72 L561.99 331.70 L563.07 331.69 L564.15 331.67 L565.24 331.65 L566.32 331.64 L567.40 331.62 L568.48 331.61 L569.56 331.59 L570.64 331.57 L571.73 331.56 L572.81 331.54 L573.89 331.52 L574.97 331.51 L576.05 331.49 L577.14 331.48 L578.22 331.46 L579.30 331.44 L580.38 331.43 L581.46 331.41 L582.54 331.39 L583.63 331.38 L584.71 331.36 L585.79 331.35 L586.87 331.33 L587.95 331.31 L589.03 331.30 L590.12 331.28 L591.20 331.26 L592.28 331.25 L593.36 331.23 L594.44 331.22 L595.53 331.20 L596.61 331.18 L597.69 331.17 L598.77 331.15 L599.85 331.13 L600.93 331.12 L602.02 331.10 L603.10 331.09 L604.18 331.07 L605.26 331.05 L606.34 331.04 L607.42 331.02 L608.51 331.00 L609.59 330.99 L610.67 330.97 L611.75 330.96 L612.83 330.94 L613.92 330.92 L615.00 330.91 L616.08 330.89 L617.16 330.88 L618.24 330.86 L619.32 330.84 L620.41 330.83 L621.49 330.81 L622.57 330.79 L623.65 330.78 L624.73 330.76 L625.81 330.75 L626.90 330.73 L627.98 330.71 L629.06 330.70 L630.14 330.68 L631.22 330.66 L632.31 330.65 L633.39 330.63 L634.47 330.62 L635.55 330.60 L636.63 330.58 L637.71 330.57 L638.80 330.55 L639.88 330.53 L640.96 330.52 L642.04 330.50 L643.12 330.49 L644.20 330.47 L645.29 330.45 L646.37 330.44 L647.45 330.42 L648.53 330.40 L649.61 330.39 L650.69 330.37 L651.78 330.36 L652.86 330.34 L653.94 330.32 L655.02 330.31 L656.10 330.29 L657.19 330.27 L658.27 330.26 L659.35 330.24 L660.43 330.23 L661.51 330.21 L662.59 330.19 L663.68 330.17 L664.76 330.16 L665.84 330.14 L666.92 330.12 L668.00 330.10 L669.08 330.08 L670.17 330.06 L671.25 330.04 L672.33 330.01 L673.41 329.99 L674.49 329.96 L675.58 329.93 L676.66 329.90 L677.74 329.86 L678.82 329.82 L679.90 329.77 L680.98 329.72 L682.07 329.66 L683.15 329.60 L684.23 329.52 L685.31 329.44 L686.39 329.35 L687.47 329.24 L688.56 329.12 L689.64 328.99 L690.72 328.84 L691.80 328.68 L692.88 328.49 L693.97 328.29 L695.05 328.06 L696.13 327.80 L697.21 327.52 L698.29 327.21 L699.37 326.87 L700.46 326.49 L701.54 326.08 L702.62 325.64 L703.70 325.15 L704.78 324.62 L705.86 324.04 L706.95 323.42 L708.03 322.75 L709.11 322.02 L710.19 321.24 L711.27 320.41 L712.36 319.52 L713.44 318.56 L714.52 317.54 L715.60 316.46 L716.68 315.31 L717.76 314.09 L718.85 312.80 L719.93 311.43 L721.01 310.00 L722.09 308.48 L723.17 306.89 L724.25 305.22 L725.34 303.47 L726.42 301.64 L727.50 299.73" fill="none" stroke="#141470" stroke-width="1.3" stroke-linejoin="round"/>
<path d="M555.50 331.90 L556.95 331.88 L558.39 331.86 L559.84 331.83 L561.28 331.81 L562.73 331.79 L564.17 331.77 L565.62 331.75 L567.06 331.73 L568.51 331.71 L569.95 331.69 L571.40 331.67 L572.84 331.65 L574.29 331.63 L575.74 331.61 L577.18 331.59 L578.63 331.57 L580.07 331.55 L581.52 331.53 L582.96 331.51 L584.41 331.49 L585.85 331.47 L587.30 331.45 L588.74 331.43 L590.19 331.41 L591.63 331.39 L593.08 331.37 L594.53 331.35 L595.97 331.33 L597.42 331.31 L598.86 331.29 L600.31 331.27 L601.75 331.25 L603.20 331.22 L604.64 331.20 L606.09 331.18 L607.53 331.16 L608.98 331.14 L610.42 331.12 L611.87 331.10 L613.32 331.07 L614.76 331.05 L616.21 331.03 L617.65 331.00 L619.10 330.98 L620.54 330.96 L621.99 330.93 L623.43 330.91 L624.88 330.88 L626.32 330.86 L627.77 330.83 L629.21 330.81 L630.66 330.78 L632.11 330.75 L633.55 330.73 L635.00 330.70 L636.44 330.67 L637.89 330.64 L639.33 330.61 L640.78 330.58 L642.22 330.56 L643.67 330.53 L645.11 330.50 L646.56 330.48 L648.00 330.45 L649.45 330.42 L650.89 330.40 L652.34 330.37 L653.79 330.35 L655.23 330.32 L656.68 330.29 L658.12 330.27 L659.57 330.24 L661.01 330.21 L662.46 330.18 L663.90 330.15 L665.35 330.11 L666.79 330.08 L668.24 330.04 L669.68 330.01 L671.13 329.97 L672.58 329.93 L674.02 329.88 L675.47 329.83 L676.91 329.79 L678.36 329.73 L679.80 329.68 L681.25 329.62 L682.69 329.56 L684.14 329.50 L685.58 329.43 L687.03 329.36 L688.47 329.28 L689.92 329.20 L691.37 329.10 L692.81 328.95 L694.26 328.75 L695.70 328.51 L697.15 328.23 L698.59 327.91 L700.04 327.55 L701.48 327.17 L702.93 326.76 L704.37 326.32 L705.82 325.86 L707.26 325.39 L708.71 324.89 L710.16 324.39 L711.60 323.87 L713.05 323.35 L714.49 322.75 L715.94 322.05 L717.38 321.26 L718.83 320.41 L720.27 319.50 L721.72 318.57 L723.16 317.62 L724.61 316.68 L726.05 315.77 L727.50 314.90" fill="none" stroke="#8a2be2" stroke-width="1.3" stroke-linejoin="round"/>
<path d="M555.50 332.10 L556.95 332.08 L558.39 332.06 L559.84 332.04 L561.28 332.02 L562.73 332.00 L564.17 331.98 L565.62 331.96 L567.06 331.94 L568.51 331.92 L569.95 331.90 L571.40 331.89 L572.84 331.87 L574.29 331.85 L575.74 331.83 L577.18 331.81 L578.63 331.79 L580.07 331.77 L581.52 331.76 L582.96 331.74 L584.41 331.72 L585.85 331.70 L587.30 331.68 L588.74 331.66 L590.19 331.65 L591.63 331.63 L593.08 331.61 L594.53 331.59 L595.97 331.57 L597.42 331.55 L598.86 331.53 L600.31 331.52 L601.75 331.50 L603.20 331.48 L604.64 331.46 L606.09 331.44 L607.53 331.42 L608.98 331.40 L610.42 331.38 L611.87 331.36 L613.32 331.34 L614.76 331.32 L616.21 331.29 L617.65 331.27 L619.10 331.25 L620.54 331.23 L621.99 331.21 L623.43 331.18 L624.88 331.16 L626.32 331.14 L627.77 331.12 L629.21 331.09 L630.66 331.07 L632.11 331.04 L633.55 331.02 L635.00 330.99 L636.44 330.97 L637.89 330.94 L639.33 330.91 L640.78 330.89 L642.22 330.86 L643.67 330.83 L645.11 330.81 L646.56 330.78 L648.00 330.76 L649.45 330.73 L650.89 330.71 L652.34 330.69 L653.79 330.66 L655.23 330.64 L656.68 330.61 L658.12 330.58 L659.57 330.56 L661.01 330.53 L662.46 330.50 L663.90 330.47 L665.35 330.44 L666.79 330.41 L668.24 330.37 L669.68 330.34 L671.13 330.30 L672.58 330.26 L674.02 330.22 L675.47 330.18 L676.91 330.13 L678.36 330.09 L679.80 330.04 L681.25 329.98 L682.69 329.93 L684.14 329.87 L685.58 329.81 L687.03 329.74 L688.47 329.68 L689.92 329.60 L691.37 329.51 L692.81 329.38 L694.26 329.21 L695.70 329.01 L697.15 328.77 L698.59 328.51 L700.04 328.23 L701.48 327.92 L702.93 327.60 L704.37 327.27 L705.82 326.92 L707.26 326.57 L708.71 326.22 L710.16 325.86 L711.60 325.51 L713.05 325.17 L714.49 324.80 L715.94 324.42 L717.38 324.01 L718.83 323.58 L720.27 323.13 L721.72 322.68 L723.16 322.23 L724.61 321.78 L726.05 321.33 L727.50 320.90" fill="none" stroke="#6d1f7d" stroke-width="1.3" stroke-linejoin="round"/>
<text transform="translate(737.50 210.30) scale(1.0 1.1)" font-family='"Liberation Serif", serif' font-size="15" font-weight="normal" text-anchor="start" fill="#111" >a</text>
<text transform="translate(737.50 223.80) scale(1.0 1.1)" font-family='"Liberation Serif", serif' font-size="15" font-weight="normal" text-anchor="start" fill="#111" >b</text>
<text transform="translate(737.50 233.60) scale(1.0 1.1)" font-family='"Liberation Serif", serif' font-size="15" font-weight="normal" text-anchor="start" fill="#111" >c</text>
<text transform="translate(737.50 249.00) scale(1.0 1.1)" font-family='"Liberation Serif", serif' font-size="15" font-weight="normal" text-anchor="start" fill="#111" >d</text>
<text transform="translate(737.50 269.50) scale(1.0 1.1)" font-family='"Liberation Serif", serif' font-size="15" font-weight="normal" text-anchor="start" fill="#111" >e</text>
<text transform="translate(737.60 304.10) scale(1.0 1.1)" font-family='"Liberation Serif", serif' font-size="15" font-weight="normal" text-anchor="start" fill="#111" >f</text>
<text transform="translate(737.60 314.50) scale(1.0 1.1)" font-family='"Liberation Serif", serif' font-size="15" font-weight="normal" text-anchor="start" fill="#111" >g</text>
<text transform="translate(737.60 328.10) scale(1.0 1.1)" font-family='"Liberation Serif", serif' font-size="15" font-weight="normal" text-anchor="start" fill="#111" >h</text>
</svg>
</body></html>
